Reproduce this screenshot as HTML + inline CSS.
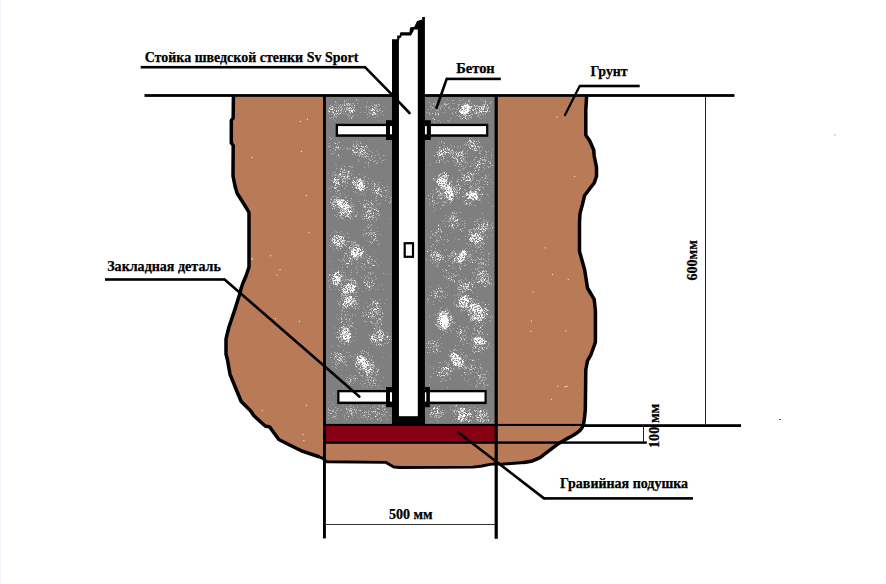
<!DOCTYPE html>
<html lang="ru">
<head>
<meta charset="utf-8">
<title>Схема бетонирования стойки шведской стенки Sv Sport</title>
<style>
html,body{margin:0;padding:0;background:#fff;}
body{width:886px;height:584px;overflow:hidden;font-family:"Liberation Serif",serif;}
svg{display:block;}
text{white-space:pre;}
</style>
</head>
<body>
<svg width="886" height="584" viewBox="0 0 886 584">
<defs><filter id="soft" x="320" y="90" width="180" height="340" filterUnits="userSpaceOnUse"><feGaussianBlur stdDeviation="0.4"/></filter></defs>
<rect width="886" height="584" fill="#fff"/>
<rect x="0" y="0" width="1" height="584" fill="#EEF3FC"/>
<polygon points="233.4,96.6 233.2,118.0 231.3,120.5 231.3,143.0 233.2,145.5 233.0,176.0 235.0,186.0 237.1,193.3 242.0,201.0 247.0,209.0 249.0,212.5 249.0,267.0 246.0,276.0 243.0,283.0 241.2,288.0 239.5,294.8 234.5,310.6 228.8,327.5 226.0,338.8 226.0,354.0 227.5,360.0 230.0,374.3 235.6,388.0 241.2,401.5 250.3,410.5 253.9,415.8 265.2,426.0 269.7,427.0 278.8,439.5 290.0,445.2 301.4,450.8 318.3,456.5 322.6,458.4 327.0,461.8 386.0,462.4 393.8,467.0 400.0,467.5 473.0,467.1 482.0,466.0 490.0,464.4 496.0,463.7 501.3,464.2 523.9,462.5 531.4,461.3 540.0,457.6 548.5,451.2 557.0,444.6 565.6,439.4 572.0,436.0 576.4,433.3 580.0,430.4 582.2,427.5 583.6,423.7 584.6,417.0 585.3,410.0 585.8,369.8 587.5,360.8 590.8,355.0 593.0,349.0 595.4,342.2 595.4,310.6 594.2,299.3 587.5,288.0 584.6,269.5 579.5,251.4 579.5,222.0 580.0,213.6 582.4,204.6 584.6,195.5 589.7,188.8 594.2,183.0 596.5,176.3 596.5,167.3 594.2,156.0 593.7,150.0 589.7,140.8 585.8,135.2 585.8,110.0 586.6,96.6" fill="#B97A57"/>
<polyline points="233.4,96.6 233.2,118.0 231.3,120.5 231.3,143.0 233.2,145.5 233.0,176.0 235.0,186.0 237.1,193.3 242.0,201.0 247.0,209.0 249.0,212.5 249.0,267.0 246.0,276.0 243.0,283.0 241.2,288.0 239.5,294.8 234.5,310.6 228.8,327.5 226.0,338.8 226.0,354.0 227.5,360.0 230.0,374.3 235.6,388.0 241.2,401.5 250.3,410.5 253.9,415.8 265.2,426.0 269.7,427.0 278.8,439.5 290.0,445.2 301.4,450.8 318.3,456.5" fill="none" stroke="#000" stroke-width="3.5" stroke-linejoin="round" stroke-linecap="round"/>
<polyline points="318.3,456.5 322.6,458.4 327.0,461.8 386.0,462.4 393.8,467.0 400.0,467.5 473.0,467.1 482.0,466.0 490.0,464.4 496.0,463.7 501.3,464.2 523.9,462.5" fill="none" stroke="#000" stroke-width="2.9" stroke-linejoin="round" stroke-linecap="round"/>
<polyline points="523.9,462.5 531.4,461.3 540.0,457.6 548.5,451.2 557.0,444.6 565.6,439.4 572.0,436.0 576.4,433.3 580.0,430.4 582.2,427.5 583.6,423.7 584.6,417.0 585.3,410.0 585.8,369.8 587.5,360.8 590.8,355.0 593.0,349.0 595.4,342.2 595.4,310.6 594.2,299.3 587.5,288.0 584.6,269.5 579.5,251.4 579.5,222.0 580.0,213.6 582.4,204.6 584.6,195.5 589.7,188.8 594.2,183.0 596.5,176.3 596.5,167.3 594.2,156.0 593.7,150.0 589.7,140.8 585.8,135.2 585.8,110.0 586.6,96.6" fill="none" stroke="#000" stroke-width="3.5" stroke-linejoin="round" stroke-linecap="round"/>
<rect x="325" y="96" width="171" height="329" fill="#7F7F7F"/>
<g filter="url(#soft)"><path d="M348 99h1v1h-1zM440 99h1v1h-1zM447 99h1v1h-1zM480 99h1v1h-1zM482 99h1v1h-1zM485 99h1v1h-1zM459 100h1v1h-1zM461 100h1v1h-1zM470 100h1v1h-1zM481 100h1v1h-1zM484 100h1v1h-1zM457 101h1v1h-1zM465 101h1v1h-1zM486 101h1v1h-1zM491 101h1v1h-1zM459 102h1v1h-1zM465 102h1v1h-1zM469 102h1v1h-1zM477 102h1v1h-1zM336 103h1v1h-1zM344 103h1v1h-1zM352 103h1v1h-1zM371 103h1v1h-1zM378 103h1v1h-1zM463 103h1v1h-1zM467 103h1v1h-1zM338 104h1v1h-1zM433 104h1v1h-1zM443 104h1v1h-1zM468 104h2v1h-2zM473 104h1v1h-1zM482 104h1v1h-1zM336 105h1v1h-1zM340 105h3v1h-3zM366 105h1v1h-1zM431 105h1v1h-1zM438 105h1v1h-1zM477 105h1v1h-1zM491 105h1v1h-1zM338 106h1v1h-1zM343 106h1v1h-1zM368 106h1v1h-1zM383 106h1v1h-1zM457 106h1v1h-1zM472 106h2v1h-2zM477 106h1v1h-1zM348 107h1v1h-1zM353 107h1v1h-1zM360 107h1v1h-1zM364 107h1v1h-1zM431 107h1v1h-1zM438 107h1v1h-1zM443 107h1v1h-1zM448 107h2v1h-2zM458 107h1v1h-1zM464 107h1v1h-1zM479 107h1v1h-1zM487 107h1v1h-1zM489 107h1v1h-1zM338 108h2v1h-2zM353 108h1v1h-1zM376 108h2v1h-2zM380 108h1v1h-1zM385 108h1v1h-1zM440 108h1v1h-1zM454 108h1v1h-1zM476 108h1v1h-1zM485 108h1v1h-1zM488 108h1v1h-1zM339 109h1v1h-1zM355 109h1v1h-1zM366 109h1v1h-1zM368 109h1v1h-1zM436 109h1v1h-1zM452 109h1v1h-1zM456 109h2v1h-2zM477 109h1v1h-1zM479 109h1v1h-1zM481 109h1v1h-1zM377 110h1v1h-1zM380 110h1v1h-1zM436 110h1v1h-1zM483 110h1v1h-1zM331 111h1v1h-1zM341 111h1v1h-1zM354 111h2v1h-2zM368 111h1v1h-1zM456 111h1v1h-1zM476 111h1v1h-1zM329 112h1v1h-1zM338 112h1v1h-1zM360 112h1v1h-1zM364 112h2v1h-2zM368 112h2v1h-2zM372 112h1v1h-1zM380 112h1v1h-1zM429 112h1v1h-1zM441 112h1v1h-1zM452 112h1v1h-1zM477 112h1v1h-1zM328 113h1v1h-1zM332 113h2v1h-2zM336 113h1v1h-1zM343 113h2v1h-2zM346 113h1v1h-1zM381 113h1v1h-1zM451 113h1v1h-1zM456 113h1v1h-1zM474 113h1v1h-1zM376 114h1v1h-1zM380 114h1v1h-1zM430 114h1v1h-1zM461 114h1v1h-1zM479 114h2v1h-2zM357 115h1v1h-1zM369 115h1v1h-1zM377 115h1v1h-1zM456 115h1v1h-1zM463 115h1v1h-1zM470 115h1v1h-1zM478 115h1v1h-1zM480 115h1v1h-1zM333 116h2v1h-2zM336 116h1v1h-1zM338 116h1v1h-1zM347 116h2v1h-2zM350 116h1v1h-1zM369 116h1v1h-1zM458 116h1v1h-1zM461 116h1v1h-1zM469 116h1v1h-1zM478 116h1v1h-1zM483 116h1v1h-1zM329 117h1v1h-1zM352 117h1v1h-1zM367 117h1v1h-1zM373 117h1v1h-1zM464 117h1v1h-1zM467 117h1v1h-1zM469 117h2v1h-2zM485 117h1v1h-1zM333 118h1v1h-1zM466 118h1v1h-1zM471 118h1v1h-1zM480 118h1v1h-1zM333 119h1v1h-1zM461 119h1v1h-1zM468 119h1v1h-1zM335 120h1v1h-1zM378 120h1v1h-1zM447 120h1v1h-1zM330 137h1v1h-1zM333 137h1v1h-1zM336 138h1v1h-1zM478 138h1v1h-1zM373 139h1v1h-1zM338 140h1v1h-1zM343 140h1v1h-1zM357 140h1v1h-1zM478 140h1v1h-1zM360 141h1v1h-1zM469 141h1v1h-1zM358 142h1v1h-1zM361 142h1v1h-1zM439 142h1v1h-1zM441 142h1v1h-1zM443 142h1v1h-1zM465 142h1v1h-1zM353 143h1v1h-1zM356 143h1v1h-1zM385 143h1v1h-1zM465 143h1v1h-1zM337 144h1v1h-1zM450 144h1v1h-1zM476 144h1v1h-1zM353 145h1v1h-1zM386 145h1v1h-1zM437 145h1v1h-1zM443 145h1v1h-1zM451 145h1v1h-1zM463 145h1v1h-1zM465 145h2v1h-2zM475 145h1v1h-1zM354 146h2v1h-2zM367 146h1v1h-1zM451 146h1v1h-1zM457 146h2v1h-2zM460 146h1v1h-1zM474 146h1v1h-1zM482 146h1v1h-1zM329 147h1v1h-1zM344 147h1v1h-1zM355 147h1v1h-1zM436 147h1v1h-1zM440 147h1v1h-1zM460 147h1v1h-1zM343 148h1v1h-1zM348 148h1v1h-1zM452 148h1v1h-1zM457 148h1v1h-1zM464 148h1v1h-1zM342 149h1v1h-1zM347 149h2v1h-2zM352 149h1v1h-1zM358 149h1v1h-1zM360 149h1v1h-1zM366 149h1v1h-1zM447 149h1v1h-1zM451 149h1v1h-1zM474 149h1v1h-1zM333 151h1v1h-1zM365 151h1v1h-1zM376 151h1v1h-1zM437 151h1v1h-1zM467 151h1v1h-1zM480 151h1v1h-1zM486 151h1v1h-1zM488 151h1v1h-1zM334 152h1v1h-1zM358 152h1v1h-1zM378 152h1v1h-1zM441 152h1v1h-1zM450 152h1v1h-1zM458 152h1v1h-1zM479 152h1v1h-1zM491 152h1v1h-1zM334 153h1v1h-1zM355 153h1v1h-1zM450 153h1v1h-1zM452 153h1v1h-1zM457 153h1v1h-1zM467 153h1v1h-1zM361 154h1v1h-1zM365 154h1v1h-1zM367 154h1v1h-1zM443 154h1v1h-1zM448 154h1v1h-1zM486 154h1v1h-1zM357 155h1v1h-1zM364 155h1v1h-1zM379 155h1v1h-1zM384 155h1v1h-1zM437 155h2v1h-2zM450 155h1v1h-1zM472 155h1v1h-1zM336 156h1v1h-1zM364 156h1v1h-1zM426 156h1v1h-1zM434 156h1v1h-1zM449 156h1v1h-1zM467 156h1v1h-1zM480 156h1v1h-1zM379 157h1v1h-1zM438 157h1v1h-1zM443 157h1v1h-1zM447 157h1v1h-1zM451 157h1v1h-1zM462 157h1v1h-1zM464 157h1v1h-1zM491 157h1v1h-1zM366 158h1v1h-1zM440 158h1v1h-1zM444 158h1v1h-1zM461 158h1v1h-1zM358 159h1v1h-1zM385 159h1v1h-1zM443 159h1v1h-1zM461 159h1v1h-1zM464 159h1v1h-1zM483 159h1v1h-1zM485 159h1v1h-1zM359 160h1v1h-1zM377 160h1v1h-1zM383 160h1v1h-1zM442 160h1v1h-1zM447 160h1v1h-1zM463 160h2v1h-2zM473 160h1v1h-1zM480 160h1v1h-1zM483 160h1v1h-1zM486 160h1v1h-1zM436 161h1v1h-1zM439 161h1v1h-1zM458 161h1v1h-1zM461 161h1v1h-1zM465 161h1v1h-1zM470 161h1v1h-1zM474 161h1v1h-1zM485 161h1v1h-1zM490 161h1v1h-1zM444 162h2v1h-2zM454 162h2v1h-2zM459 162h1v1h-1zM464 162h1v1h-1zM467 162h1v1h-1zM475 162h1v1h-1zM485 162h1v1h-1zM459 163h1v1h-1zM471 163h2v1h-2zM484 163h1v1h-1zM335 164h1v1h-1zM342 164h1v1h-1zM454 164h1v1h-1zM460 164h1v1h-1zM473 164h1v1h-1zM336 165h1v1h-1zM352 165h1v1h-1zM471 165h1v1h-1zM473 165h1v1h-1zM475 165h1v1h-1zM491 165h1v1h-1zM341 166h1v1h-1zM466 166h1v1h-1zM469 166h1v1h-1zM487 166h2v1h-2zM351 167h1v1h-1zM368 167h1v1h-1zM477 167h1v1h-1zM489 167h1v1h-1zM464 168h1v1h-1zM475 168h1v1h-1zM484 168h1v1h-1zM346 169h1v1h-1zM461 169h1v1h-1zM463 169h1v1h-1zM478 169h1v1h-1zM484 169h1v1h-1zM350 170h1v1h-1zM352 170h1v1h-1zM458 170h1v1h-1zM346 171h1v1h-1zM482 171h1v1h-1zM332 172h1v1h-1zM335 172h1v1h-1zM328 173h1v1h-1zM339 173h1v1h-1zM440 173h1v1h-1zM474 173h1v1h-1zM334 174h3v1h-3zM344 174h1v1h-1zM353 174h1v1h-1zM439 174h1v1h-1zM474 174h1v1h-1zM332 175h1v1h-1zM336 175h1v1h-1zM339 175h1v1h-1zM342 175h1v1h-1zM345 175h1v1h-1zM362 175h1v1h-1zM438 175h1v1h-1zM478 175h1v1h-1zM488 175h1v1h-1zM332 176h1v1h-1zM338 176h2v1h-2zM345 176h1v1h-1zM356 176h1v1h-1zM364 176h1v1h-1zM435 176h1v1h-1zM439 176h1v1h-1zM448 176h1v1h-1zM469 176h1v1h-1zM340 177h1v1h-1zM363 177h1v1h-1zM446 177h1v1h-1zM452 177h1v1h-1zM458 177h1v1h-1zM461 177h1v1h-1zM464 177h1v1h-1zM468 177h1v1h-1zM332 178h1v1h-1zM338 178h2v1h-2zM347 178h1v1h-1zM354 178h1v1h-1zM357 178h1v1h-1zM452 178h1v1h-1zM464 178h1v1h-1zM487 178h1v1h-1zM339 179h1v1h-1zM358 179h1v1h-1zM435 179h1v1h-1zM442 179h1v1h-1zM457 179h1v1h-1zM464 179h1v1h-1zM472 179h1v1h-1zM490 179h1v1h-1zM331 180h1v1h-1zM342 180h1v1h-1zM363 180h2v1h-2zM371 180h1v1h-1zM432 180h1v1h-1zM434 180h1v1h-1zM450 180h1v1h-1zM477 180h1v1h-1zM333 181h1v1h-1zM344 181h1v1h-1zM363 181h3v1h-3zM372 181h2v1h-2zM450 181h1v1h-1zM452 181h1v1h-1zM456 181h1v1h-1zM470 181h1v1h-1zM490 181h1v1h-1zM344 182h2v1h-2zM380 182h1v1h-1zM450 182h2v1h-2zM463 182h2v1h-2zM470 182h1v1h-1zM335 183h1v1h-1zM345 183h1v1h-1zM352 183h1v1h-1zM367 183h1v1h-1zM458 183h1v1h-1zM473 183h1v1h-1zM475 183h1v1h-1zM350 184h1v1h-1zM368 184h1v1h-1zM372 184h1v1h-1zM346 185h1v1h-1zM363 185h1v1h-1zM377 185h1v1h-1zM457 185h1v1h-1zM462 185h1v1h-1zM472 185h1v1h-1zM330 186h1v1h-1zM339 186h1v1h-1zM342 186h1v1h-1zM371 186h1v1h-1zM376 186h1v1h-1zM453 186h1v1h-1zM455 186h1v1h-1zM470 186h1v1h-1zM331 187h1v1h-1zM361 187h1v1h-1zM366 187h1v1h-1zM373 187h1v1h-1zM378 187h1v1h-1zM383 187h1v1h-1zM453 187h1v1h-1zM457 187h1v1h-1zM472 187h1v1h-1zM476 187h1v1h-1zM490 187h1v1h-1zM328 188h2v1h-2zM360 188h1v1h-1zM372 188h1v1h-1zM452 188h1v1h-1zM457 188h1v1h-1zM471 188h1v1h-1zM336 189h1v1h-1zM353 189h1v1h-1zM381 189h1v1h-1zM388 189h1v1h-1zM435 189h1v1h-1zM437 189h1v1h-1zM439 189h1v1h-1zM441 189h1v1h-1zM469 189h1v1h-1zM471 189h1v1h-1zM477 189h1v1h-1zM479 189h2v1h-2zM483 189h1v1h-1zM359 190h1v1h-1zM372 190h1v1h-1zM432 190h2v1h-2zM436 190h1v1h-1zM452 190h2v1h-2zM459 190h1v1h-1zM470 190h2v1h-2zM474 190h1v1h-1zM492 190h1v1h-1zM330 191h1v1h-1zM355 191h1v1h-1zM388 191h1v1h-1zM443 191h1v1h-1zM457 191h1v1h-1zM462 191h1v1h-1zM355 192h1v1h-1zM357 192h1v1h-1zM364 192h1v1h-1zM383 192h1v1h-1zM387 192h1v1h-1zM435 192h3v1h-3zM439 192h1v1h-1zM443 192h1v1h-1zM474 192h1v1h-1zM477 192h1v1h-1zM481 192h1v1h-1zM339 193h1v1h-1zM355 193h1v1h-1zM361 193h1v1h-1zM374 193h1v1h-1zM441 193h1v1h-1zM444 193h1v1h-1zM453 193h1v1h-1zM344 194h1v1h-1zM360 194h1v1h-1zM387 194h1v1h-1zM442 194h1v1h-1zM447 194h1v1h-1zM456 194h1v1h-1zM339 195h2v1h-2zM348 195h1v1h-1zM358 195h1v1h-1zM371 195h1v1h-1zM383 195h1v1h-1zM439 195h2v1h-2zM443 195h1v1h-1zM445 195h1v1h-1zM465 195h1v1h-1zM468 195h1v1h-1zM488 195h1v1h-1zM336 196h1v1h-1zM346 196h1v1h-1zM384 196h1v1h-1zM439 196h1v1h-1zM456 196h2v1h-2zM336 197h1v1h-1zM338 197h2v1h-2zM385 197h1v1h-1zM442 197h1v1h-1zM459 197h1v1h-1zM464 197h1v1h-1zM473 197h1v1h-1zM376 198h1v1h-1zM437 198h1v1h-1zM447 198h1v1h-1zM457 198h2v1h-2zM342 199h1v1h-1zM364 199h1v1h-1zM441 199h1v1h-1zM333 200h1v1h-1zM375 200h1v1h-1zM391 200h1v1h-1zM446 200h2v1h-2zM466 200h2v1h-2zM469 200h1v1h-1zM474 200h1v1h-1zM477 200h2v1h-2zM481 200h1v1h-1zM333 201h1v1h-1zM346 201h2v1h-2zM358 201h2v1h-2zM442 201h1v1h-1zM463 201h1v1h-1zM471 201h2v1h-2zM344 202h1v1h-1zM363 202h1v1h-1zM429 202h1v1h-1zM444 202h1v1h-1zM480 202h1v1h-1zM488 202h1v1h-1zM350 203h1v1h-1zM367 203h1v1h-1zM373 203h1v1h-1zM437 203h1v1h-1zM464 203h1v1h-1zM336 204h1v1h-1zM351 204h2v1h-2zM364 204h1v1h-1zM369 204h1v1h-1zM442 204h1v1h-1zM444 204h1v1h-1zM449 204h1v1h-1zM331 205h1v1h-1zM361 205h1v1h-1zM364 205h1v1h-1zM368 205h1v1h-1zM371 205h1v1h-1zM373 205h1v1h-1zM376 205h1v1h-1zM433 205h1v1h-1zM474 205h1v1h-1zM334 206h3v1h-3zM338 206h1v1h-1zM373 206h1v1h-1zM343 207h1v1h-1zM375 207h1v1h-1zM433 207h1v1h-1zM341 208h1v1h-1zM350 208h1v1h-1zM353 208h1v1h-1zM371 208h1v1h-1zM373 208h1v1h-1zM336 209h1v1h-1zM342 209h1v1h-1zM346 209h1v1h-1zM351 209h1v1h-1zM377 209h1v1h-1zM345 210h1v1h-1zM354 210h1v1h-1zM371 210h1v1h-1zM337 211h1v1h-1zM341 212h1v1h-1zM345 212h1v1h-1zM347 212h1v1h-1zM351 212h1v1h-1zM353 212h2v1h-2zM366 212h1v1h-1zM371 212h1v1h-1zM373 212h1v1h-1zM456 212h1v1h-1zM461 212h1v1h-1zM375 213h1v1h-1zM453 213h1v1h-1zM455 213h1v1h-1zM350 214h1v1h-1zM353 214h1v1h-1zM361 214h1v1h-1zM364 214h1v1h-1zM367 214h1v1h-1zM450 214h1v1h-1zM334 215h2v1h-2zM342 215h1v1h-1zM356 215h1v1h-1zM379 215h1v1h-1zM356 216h1v1h-1zM361 216h1v1h-1zM375 216h1v1h-1zM448 216h1v1h-1zM455 216h3v1h-3zM340 217h1v1h-1zM369 217h1v1h-1zM375 217h1v1h-1zM451 217h1v1h-1zM483 217h1v1h-1zM350 218h1v1h-1zM352 218h1v1h-1zM379 218h1v1h-1zM390 218h1v1h-1zM470 218h1v1h-1zM338 219h1v1h-1zM363 219h1v1h-1zM452 219h1v1h-1zM459 219h1v1h-1zM479 219h1v1h-1zM344 220h1v1h-1zM375 220h1v1h-1zM429 220h1v1h-1zM453 220h1v1h-1zM462 220h1v1h-1zM464 220h1v1h-1zM476 220h1v1h-1zM486 220h1v1h-1zM442 221h1v1h-1zM453 221h1v1h-1zM461 221h1v1h-1zM464 221h1v1h-1zM486 221h1v1h-1zM488 221h1v1h-1zM374 222h1v1h-1zM444 223h1v1h-1zM458 223h1v1h-1zM464 223h1v1h-1zM438 224h1v1h-1zM459 224h1v1h-1zM462 224h1v1h-1zM490 224h1v1h-1zM370 225h1v1h-1zM372 225h1v1h-1zM475 225h1v1h-1zM488 225h1v1h-1zM492 226h1v1h-1zM366 227h1v1h-1zM377 227h1v1h-1zM440 227h1v1h-1zM473 227h1v1h-1zM484 227h1v1h-1zM368 228h1v1h-1zM474 228h1v1h-1zM479 228h1v1h-1zM492 228h1v1h-1zM363 229h1v1h-1zM441 229h1v1h-1zM454 229h1v1h-1zM468 229h3v1h-3zM482 229h1v1h-1zM487 229h1v1h-1zM435 230h1v1h-1zM461 230h1v1h-1zM463 230h1v1h-1zM469 230h1v1h-1zM478 230h1v1h-1zM482 230h1v1h-1zM484 230h1v1h-1zM488 230h1v1h-1zM491 230h1v1h-1zM335 231h2v1h-2zM341 231h1v1h-1zM469 231h2v1h-2zM332 232h1v1h-1zM336 232h2v1h-2zM339 232h1v1h-1zM367 232h1v1h-1zM451 232h1v1h-1zM479 232h1v1h-1zM340 233h1v1h-1zM365 233h1v1h-1zM371 233h1v1h-1zM433 233h1v1h-1zM470 233h1v1h-1zM477 233h3v1h-3zM482 233h1v1h-1zM343 234h1v1h-1zM369 234h1v1h-1zM377 234h1v1h-1zM380 234h1v1h-1zM445 234h1v1h-1zM485 234h1v1h-1zM344 235h1v1h-1zM365 235h1v1h-1zM447 235h1v1h-1zM344 236h1v1h-1zM465 236h1v1h-1zM477 236h1v1h-1zM481 236h1v1h-1zM487 236h1v1h-1zM338 237h1v1h-1zM340 237h1v1h-1zM376 237h1v1h-1zM437 237h1v1h-1zM471 237h1v1h-1zM455 238h1v1h-1zM330 239h1v1h-1zM436 239h1v1h-1zM459 239h1v1h-1zM465 239h1v1h-1zM484 239h1v1h-1zM366 240h1v1h-1zM352 241h1v1h-1zM354 241h1v1h-1zM370 241h1v1h-1zM469 241h1v1h-1zM482 241h1v1h-1zM332 242h1v1h-1zM343 242h1v1h-1zM347 242h1v1h-1zM351 242h1v1h-1zM438 242h1v1h-1zM480 242h1v1h-1zM331 243h1v1h-1zM335 243h1v1h-1zM352 243h2v1h-2zM378 243h1v1h-1zM466 243h2v1h-2zM475 243h1v1h-1zM331 244h1v1h-1zM342 244h1v1h-1zM352 244h1v1h-1zM357 244h3v1h-3zM378 244h2v1h-2zM437 244h1v1h-1zM329 245h1v1h-1zM340 245h1v1h-1zM350 245h1v1h-1zM354 245h1v1h-1zM359 245h1v1h-1zM369 245h1v1h-1zM436 245h1v1h-1zM468 245h1v1h-1zM473 245h1v1h-1zM478 245h1v1h-1zM349 246h1v1h-1zM353 246h1v1h-1zM356 246h1v1h-1zM363 246h1v1h-1zM433 246h1v1h-1zM458 246h1v1h-1zM471 246h1v1h-1zM337 247h1v1h-1zM359 247h1v1h-1zM351 248h1v1h-1zM363 248h1v1h-1zM454 248h1v1h-1zM462 248h1v1h-1zM465 248h2v1h-2zM469 248h1v1h-1zM477 248h1v1h-1zM483 248h1v1h-1zM350 249h2v1h-2zM355 249h2v1h-2zM483 249h1v1h-1zM349 250h1v1h-1zM366 250h1v1h-1zM430 250h1v1h-1zM438 250h1v1h-1zM457 250h1v1h-1zM486 250h1v1h-1zM364 251h1v1h-1zM434 251h1v1h-1zM436 251h1v1h-1zM452 251h1v1h-1zM459 251h1v1h-1zM469 251h1v1h-1zM344 252h1v1h-1zM349 252h1v1h-1zM374 252h1v1h-1zM451 252h1v1h-1zM453 252h1v1h-1zM455 252h1v1h-1zM460 252h1v1h-1zM465 252h1v1h-1zM476 252h1v1h-1zM482 252h1v1h-1zM347 253h1v1h-1zM433 253h1v1h-1zM454 253h1v1h-1zM472 253h1v1h-1zM367 254h1v1h-1zM441 254h1v1h-1zM450 254h2v1h-2zM453 254h1v1h-1zM480 254h1v1h-1zM484 254h1v1h-1zM488 254h1v1h-1zM350 255h1v1h-1zM363 255h1v1h-1zM454 255h2v1h-2zM483 255h1v1h-1zM344 256h1v1h-1zM347 256h1v1h-1zM365 256h1v1h-1zM373 256h1v1h-1zM431 256h1v1h-1zM434 256h2v1h-2zM445 256h1v1h-1zM449 256h1v1h-1zM468 256h3v1h-3zM473 256h1v1h-1zM488 256h1v1h-1zM344 257h1v1h-1zM355 257h1v1h-1zM360 257h1v1h-1zM363 257h1v1h-1zM370 257h1v1h-1zM439 257h1v1h-1zM456 257h1v1h-1zM471 257h1v1h-1zM481 257h1v1h-1zM342 258h1v1h-1zM346 258h1v1h-1zM351 258h1v1h-1zM355 258h2v1h-2zM363 258h2v1h-2zM377 258h1v1h-1zM432 258h1v1h-1zM440 258h1v1h-1zM352 259h1v1h-1zM360 259h1v1h-1zM459 259h1v1h-1zM348 260h1v1h-1zM355 260h1v1h-1zM472 260h1v1h-1zM329 261h1v1h-1zM374 261h1v1h-1zM436 261h2v1h-2zM450 261h1v1h-1zM462 261h1v1h-1zM469 261h1v1h-1zM478 261h1v1h-1zM488 261h1v1h-1zM381 262h1v1h-1zM438 262h2v1h-2zM470 262h1v1h-1zM353 263h1v1h-1zM361 263h1v1h-1zM364 263h1v1h-1zM376 263h1v1h-1zM438 263h1v1h-1zM464 263h1v1h-1zM342 264h1v1h-1zM365 264h1v1h-1zM372 264h1v1h-1zM478 264h1v1h-1zM363 265h1v1h-1zM437 265h1v1h-1zM485 265h2v1h-2zM449 266h1v1h-1zM453 266h1v1h-1zM479 266h2v1h-2zM361 267h1v1h-1zM369 267h1v1h-1zM479 267h1v1h-1zM362 268h1v1h-1zM455 268h1v1h-1zM475 268h1v1h-1zM477 268h2v1h-2zM332 269h1v1h-1zM364 269h1v1h-1zM471 269h1v1h-1zM338 270h1v1h-1zM364 270h1v1h-1zM478 270h1v1h-1zM482 270h1v1h-1zM340 271h1v1h-1zM456 271h1v1h-1zM485 271h1v1h-1zM341 272h1v1h-1zM344 272h1v1h-1zM356 272h1v1h-1zM373 272h1v1h-1zM446 272h1v1h-1zM448 272h1v1h-1zM368 273h1v1h-1zM385 273h1v1h-1zM448 273h1v1h-1zM473 273h1v1h-1zM477 273h1v1h-1zM342 274h1v1h-1zM350 274h1v1h-1zM356 274h1v1h-1zM389 274h1v1h-1zM335 275h2v1h-2zM343 275h1v1h-1zM350 275h1v1h-1zM452 275h1v1h-1zM454 275h1v1h-1zM473 275h2v1h-2zM485 275h1v1h-1zM343 276h1v1h-1zM450 276h1v1h-1zM459 276h1v1h-1zM481 276h3v1h-3zM486 276h1v1h-1zM328 277h1v1h-1zM449 277h1v1h-1zM479 277h1v1h-1zM483 277h1v1h-1zM488 277h1v1h-1zM342 278h1v1h-1zM349 278h1v1h-1zM376 278h1v1h-1zM472 278h1v1h-1zM476 278h1v1h-1zM343 279h1v1h-1zM346 279h1v1h-1zM375 279h1v1h-1zM447 279h1v1h-1zM453 279h1v1h-1zM465 279h1v1h-1zM471 279h1v1h-1zM475 279h2v1h-2zM483 279h1v1h-1zM328 280h2v1h-2zM341 280h1v1h-1zM353 280h1v1h-1zM364 280h1v1h-1zM366 280h1v1h-1zM458 280h1v1h-1zM460 280h1v1h-1zM463 280h1v1h-1zM466 280h1v1h-1zM482 280h2v1h-2zM486 280h1v1h-1zM328 281h1v1h-1zM341 281h1v1h-1zM344 281h1v1h-1zM368 281h1v1h-1zM471 281h1v1h-1zM475 281h1v1h-1zM356 282h1v1h-1zM454 282h1v1h-1zM462 282h1v1h-1zM468 282h1v1h-1zM483 282h1v1h-1zM339 283h1v1h-1zM350 283h1v1h-1zM457 283h1v1h-1zM462 283h1v1h-1zM467 283h1v1h-1zM488 283h1v1h-1zM491 283h1v1h-1zM352 284h1v1h-1zM355 284h1v1h-1zM460 284h1v1h-1zM462 284h1v1h-1zM490 284h1v1h-1zM340 285h1v1h-1zM351 285h1v1h-1zM354 285h1v1h-1zM356 285h1v1h-1zM378 285h1v1h-1zM448 285h1v1h-1zM457 285h1v1h-1zM473 285h1v1h-1zM486 285h1v1h-1zM356 286h1v1h-1zM431 286h1v1h-1zM462 286h1v1h-1zM480 286h1v1h-1zM340 287h1v1h-1zM343 287h1v1h-1zM368 287h1v1h-1zM429 287h1v1h-1zM440 287h1v1h-1zM446 287h1v1h-1zM460 287h1v1h-1zM467 287h1v1h-1zM475 287h1v1h-1zM345 288h1v1h-1zM441 288h1v1h-1zM461 288h1v1h-1zM335 289h1v1h-1zM341 289h1v1h-1zM346 289h1v1h-1zM375 289h1v1h-1zM383 289h1v1h-1zM469 289h1v1h-1zM454 290h1v1h-1zM462 290h1v1h-1zM466 290h1v1h-1zM351 291h1v1h-1zM362 291h1v1h-1zM433 291h1v1h-1zM435 291h1v1h-1zM444 291h1v1h-1zM464 291h2v1h-2zM357 292h1v1h-1zM437 292h1v1h-1zM440 292h3v1h-3zM460 292h1v1h-1zM350 293h1v1h-1zM353 293h1v1h-1zM447 293h1v1h-1zM457 293h1v1h-1zM460 293h1v1h-1zM341 294h1v1h-1zM349 294h2v1h-2zM355 294h1v1h-1zM436 294h1v1h-1zM460 294h1v1h-1zM466 294h1v1h-1zM342 295h1v1h-1zM437 295h1v1h-1zM457 295h1v1h-1zM459 295h1v1h-1zM464 295h1v1h-1zM356 296h1v1h-1zM462 296h1v1h-1zM344 297h1v1h-1zM439 297h1v1h-1zM444 297h1v1h-1zM343 298h1v1h-1zM435 298h1v1h-1zM473 298h1v1h-1zM352 299h1v1h-1zM354 299h1v1h-1zM358 299h1v1h-1zM379 299h2v1h-2zM386 299h1v1h-1zM454 299h1v1h-1zM474 299h1v1h-1zM476 299h1v1h-1zM342 300h1v1h-1zM359 300h1v1h-1zM455 300h1v1h-1zM458 300h1v1h-1zM461 300h1v1h-1zM463 300h1v1h-1zM472 300h1v1h-1zM477 300h2v1h-2zM372 301h1v1h-1zM377 301h1v1h-1zM440 301h1v1h-1zM462 301h1v1h-1zM469 301h1v1h-1zM355 302h1v1h-1zM458 302h1v1h-1zM467 302h1v1h-1zM472 302h1v1h-1zM479 302h1v1h-1zM481 302h1v1h-1zM340 303h1v1h-1zM352 303h1v1h-1zM366 303h1v1h-1zM380 303h1v1h-1zM384 303h1v1h-1zM453 303h1v1h-1zM477 303h1v1h-1zM454 304h1v1h-1zM469 304h1v1h-1zM478 304h1v1h-1zM377 305h1v1h-1zM379 305h1v1h-1zM386 305h1v1h-1zM454 305h1v1h-1zM465 305h1v1h-1zM342 306h1v1h-1zM351 306h1v1h-1zM368 306h1v1h-1zM472 306h1v1h-1zM481 306h1v1h-1zM348 307h1v1h-1zM367 307h1v1h-1zM447 307h1v1h-1zM456 307h1v1h-1zM458 307h1v1h-1zM461 307h1v1h-1zM477 307h1v1h-1zM484 307h1v1h-1zM343 308h2v1h-2zM353 308h1v1h-1zM380 308h1v1h-1zM440 308h1v1h-1zM446 308h1v1h-1zM466 308h1v1h-1zM469 308h1v1h-1zM474 308h1v1h-1zM342 309h1v1h-1zM355 309h1v1h-1zM445 309h1v1h-1zM447 309h1v1h-1zM467 309h1v1h-1zM483 309h1v1h-1zM487 309h1v1h-1zM341 310h1v1h-1zM369 310h1v1h-1zM374 310h1v1h-1zM379 310h1v1h-1zM439 310h1v1h-1zM445 310h2v1h-2zM448 310h1v1h-1zM460 310h1v1h-1zM463 310h1v1h-1zM471 310h1v1h-1zM486 310h1v1h-1zM489 310h1v1h-1zM341 311h1v1h-1zM347 311h1v1h-1zM460 311h1v1h-1zM483 311h1v1h-1zM486 311h1v1h-1zM379 312h1v1h-1zM438 312h2v1h-2zM445 312h1v1h-1zM461 312h1v1h-1zM468 312h2v1h-2zM473 312h1v1h-1zM475 312h1v1h-1zM341 313h1v1h-1zM383 313h1v1h-1zM437 313h1v1h-1zM442 313h1v1h-1zM450 313h1v1h-1zM475 313h1v1h-1zM479 313h1v1h-1zM337 314h1v1h-1zM347 314h2v1h-2zM434 314h2v1h-2zM437 314h2v1h-2zM442 314h1v1h-1zM480 314h1v1h-1zM350 315h1v1h-1zM362 315h1v1h-1zM433 315h1v1h-1zM469 315h1v1h-1zM471 315h1v1h-1zM361 316h1v1h-1zM373 316h1v1h-1zM381 316h1v1h-1zM451 316h1v1h-1zM477 316h2v1h-2zM488 316h1v1h-1zM336 317h1v1h-1zM340 317h1v1h-1zM382 317h1v1h-1zM436 317h1v1h-1zM470 317h1v1h-1zM372 318h1v1h-1zM374 318h1v1h-1zM451 318h1v1h-1zM453 318h1v1h-1zM470 318h1v1h-1zM342 319h1v1h-1zM378 319h1v1h-1zM435 319h1v1h-1zM478 319h1v1h-1zM484 319h1v1h-1zM437 320h1v1h-1zM449 320h1v1h-1zM451 320h1v1h-1zM470 320h1v1h-1zM476 320h2v1h-2zM346 321h1v1h-1zM348 321h1v1h-1zM351 321h1v1h-1zM376 321h2v1h-2zM470 321h1v1h-1zM476 321h1v1h-1zM346 322h1v1h-1zM352 322h1v1h-1zM354 322h1v1h-1zM434 322h1v1h-1zM439 322h1v1h-1zM451 322h1v1h-1zM469 322h1v1h-1zM339 323h1v1h-1zM349 323h1v1h-1zM375 323h1v1h-1zM437 323h1v1h-1zM453 323h1v1h-1zM482 323h1v1h-1zM347 324h1v1h-1zM449 324h1v1h-1zM480 324h1v1h-1zM366 325h1v1h-1zM372 325h1v1h-1zM377 325h1v1h-1zM438 325h2v1h-2zM452 325h1v1h-1zM473 325h1v1h-1zM476 325h1v1h-1zM478 325h1v1h-1zM483 325h1v1h-1zM341 326h1v1h-1zM346 326h1v1h-1zM349 326h1v1h-1zM376 326h1v1h-1zM379 326h1v1h-1zM450 326h1v1h-1zM334 327h1v1h-1zM339 327h1v1h-1zM345 327h1v1h-1zM353 327h1v1h-1zM376 327h1v1h-1zM438 327h2v1h-2zM474 327h1v1h-1zM355 328h1v1h-1zM376 328h1v1h-1zM379 328h1v1h-1zM438 328h1v1h-1zM473 328h1v1h-1zM480 328h1v1h-1zM338 329h1v1h-1zM356 329h1v1h-1zM377 329h1v1h-1zM379 329h2v1h-2zM382 329h1v1h-1zM438 329h1v1h-1zM443 329h1v1h-1zM445 329h1v1h-1zM442 330h1v1h-1zM451 330h1v1h-1zM476 330h1v1h-1zM339 331h1v1h-1zM350 331h1v1h-1zM373 331h1v1h-1zM446 331h1v1h-1zM479 331h1v1h-1zM356 332h1v1h-1zM386 332h1v1h-1zM451 332h1v1h-1zM459 332h1v1h-1zM335 333h1v1h-1zM340 333h1v1h-1zM387 333h1v1h-1zM463 333h1v1h-1zM473 333h1v1h-1zM337 334h1v1h-1zM368 334h1v1h-1zM473 334h1v1h-1zM476 334h1v1h-1zM481 334h1v1h-1zM483 334h1v1h-1zM341 335h1v1h-1zM380 335h1v1h-1zM387 335h1v1h-1zM459 335h1v1h-1zM464 335h1v1h-1zM471 335h1v1h-1zM337 336h2v1h-2zM353 336h1v1h-1zM355 336h1v1h-1zM386 336h1v1h-1zM462 336h1v1h-1zM471 336h1v1h-1zM478 336h1v1h-1zM483 336h1v1h-1zM337 337h1v1h-1zM352 337h1v1h-1zM383 337h1v1h-1zM389 337h1v1h-1zM463 337h1v1h-1zM473 337h1v1h-1zM476 337h1v1h-1zM484 337h1v1h-1zM369 338h2v1h-2zM379 338h1v1h-1zM384 338h1v1h-1zM469 338h1v1h-1zM472 338h1v1h-1zM378 339h1v1h-1zM386 339h2v1h-2zM438 339h1v1h-1zM465 339h1v1h-1zM340 340h1v1h-1zM342 340h1v1h-1zM353 340h2v1h-2zM382 340h1v1h-1zM431 340h1v1h-1zM437 340h1v1h-1zM462 340h1v1h-1zM464 340h1v1h-1zM466 340h1v1h-1zM472 340h1v1h-1zM485 340h1v1h-1zM344 341h1v1h-1zM351 341h1v1h-1zM386 341h1v1h-1zM429 341h2v1h-2zM473 341h1v1h-1zM344 342h1v1h-1zM378 342h1v1h-1zM432 342h1v1h-1zM463 342h1v1h-1zM473 342h1v1h-1zM488 342h1v1h-1zM343 343h1v1h-1zM370 343h1v1h-1zM376 343h1v1h-1zM384 343h1v1h-1zM429 343h1v1h-1zM431 343h1v1h-1zM441 343h1v1h-1zM466 343h1v1h-1zM470 343h1v1h-1zM374 344h1v1h-1zM430 344h1v1h-1zM471 344h1v1h-1zM476 344h1v1h-1zM482 344h1v1h-1zM349 345h1v1h-1zM427 345h1v1h-1zM431 345h1v1h-1zM434 345h1v1h-1zM439 345h1v1h-1zM458 345h1v1h-1zM475 345h1v1h-1zM435 346h1v1h-1zM438 346h1v1h-1zM473 346h1v1h-1zM476 346h1v1h-1zM487 346h1v1h-1zM368 347h1v1h-1zM374 347h1v1h-1zM431 347h1v1h-1zM437 347h1v1h-1zM441 347h1v1h-1zM476 347h1v1h-1zM480 347h1v1h-1zM486 347h1v1h-1zM436 348h1v1h-1zM481 348h1v1h-1zM487 348h1v1h-1zM429 349h1v1h-1zM453 349h1v1h-1zM460 349h2v1h-2zM472 349h2v1h-2zM429 350h1v1h-1zM453 350h1v1h-1zM456 350h2v1h-2zM484 350h1v1h-1zM360 351h2v1h-2zM439 351h1v1h-1zM450 351h2v1h-2zM473 351h1v1h-1zM348 352h2v1h-2zM361 352h1v1h-1zM460 352h1v1h-1zM481 352h1v1h-1zM357 353h1v1h-1zM461 353h1v1h-1zM357 354h1v1h-1zM448 354h1v1h-1zM462 354h1v1h-1zM470 354h1v1h-1zM368 355h1v1h-1zM371 355h1v1h-1zM448 355h1v1h-1zM455 355h1v1h-1zM466 355h1v1h-1zM336 356h2v1h-2zM342 356h1v1h-1zM348 356h1v1h-1zM351 356h1v1h-1zM363 356h1v1h-1zM366 356h1v1h-1zM390 356h1v1h-1zM449 356h1v1h-1zM458 356h1v1h-1zM460 356h1v1h-1zM463 356h1v1h-1zM465 356h1v1h-1zM365 357h1v1h-1zM370 357h1v1h-1zM383 357h1v1h-1zM461 357h1v1h-1zM464 357h1v1h-1zM341 358h1v1h-1zM353 358h1v1h-1zM364 358h1v1h-1zM369 358h1v1h-1zM461 358h1v1h-1zM334 359h1v1h-1zM355 359h1v1h-1zM454 359h1v1h-1zM472 359h1v1h-1zM331 360h1v1h-1zM335 360h1v1h-1zM445 360h1v1h-1zM449 360h1v1h-1zM474 360h1v1h-1zM355 361h1v1h-1zM369 361h1v1h-1zM373 361h1v1h-1zM444 361h1v1h-1zM343 362h1v1h-1zM369 362h1v1h-1zM439 362h1v1h-1zM442 362h1v1h-1zM448 362h1v1h-1zM474 362h1v1h-1zM343 363h1v1h-1zM358 363h1v1h-1zM360 363h1v1h-1zM369 363h1v1h-1zM448 363h1v1h-1zM452 363h1v1h-1zM337 364h1v1h-1zM370 364h1v1h-1zM445 364h1v1h-1zM448 364h1v1h-1zM346 365h2v1h-2zM361 365h1v1h-1zM371 365h1v1h-1zM374 365h1v1h-1zM448 365h1v1h-1zM454 365h1v1h-1zM342 366h1v1h-1zM346 366h1v1h-1zM433 366h1v1h-1zM447 366h1v1h-1zM456 366h1v1h-1zM479 366h1v1h-1zM356 367h2v1h-2zM369 367h1v1h-1zM378 367h1v1h-1zM430 367h1v1h-1zM438 367h2v1h-2zM464 367h1v1h-1zM468 367h1v1h-1zM481 367h1v1h-1zM358 368h1v1h-1zM367 368h1v1h-1zM457 368h1v1h-1zM460 368h1v1h-1zM463 368h1v1h-1zM468 368h1v1h-1zM477 368h2v1h-2zM480 368h1v1h-1zM482 368h1v1h-1zM341 369h1v1h-1zM358 369h1v1h-1zM361 369h2v1h-2zM377 369h1v1h-1zM453 369h2v1h-2zM458 369h1v1h-1zM481 369h1v1h-1zM346 370h1v1h-1zM360 370h1v1h-1zM365 370h1v1h-1zM377 370h1v1h-1zM436 370h1v1h-1zM487 370h1v1h-1zM372 371h1v1h-1zM376 371h1v1h-1zM451 371h1v1h-1zM481 371h1v1h-1zM358 372h1v1h-1zM374 372h2v1h-2zM377 372h1v1h-1zM440 372h1v1h-1zM444 372h2v1h-2zM474 372h1v1h-1zM366 373h1v1h-1zM375 373h1v1h-1zM439 373h1v1h-1zM441 373h1v1h-1zM449 373h1v1h-1zM470 373h2v1h-2zM450 374h1v1h-1zM488 374h1v1h-1zM341 375h1v1h-1zM354 375h1v1h-1zM360 375h1v1h-1zM375 375h1v1h-1zM365 376h1v1h-1zM445 376h1v1h-1zM481 376h1v1h-1zM366 377h1v1h-1zM368 377h1v1h-1zM374 377h1v1h-1zM431 377h1v1h-1zM449 377h1v1h-1zM354 378h1v1h-1zM357 378h1v1h-1zM362 378h1v1h-1zM373 378h1v1h-1zM375 378h1v1h-1zM379 378h1v1h-1zM441 378h1v1h-1zM464 378h1v1h-1zM480 378h1v1h-1zM355 379h1v1h-1zM365 379h1v1h-1zM371 379h1v1h-1zM437 379h1v1h-1zM442 379h1v1h-1zM450 379h1v1h-1zM478 379h1v1h-1zM483 379h1v1h-1zM360 380h1v1h-1zM365 380h1v1h-1zM367 380h1v1h-1zM381 380h1v1h-1zM443 380h1v1h-1zM446 380h1v1h-1zM481 380h1v1h-1zM347 381h1v1h-1zM355 381h1v1h-1zM371 381h1v1h-1zM380 381h1v1h-1zM480 381h1v1h-1zM365 382h1v1h-1zM479 382h1v1h-1zM484 382h1v1h-1zM353 383h1v1h-1zM360 383h1v1h-1zM365 383h1v1h-1zM477 383h1v1h-1zM350 384h1v1h-1zM362 384h1v1h-1zM470 384h1v1h-1zM488 384h1v1h-1zM367 385h1v1h-1zM370 385h1v1h-1zM380 385h1v1h-1zM343 386h1v1h-1zM476 386h1v1h-1zM484 386h1v1h-1zM371 387h1v1h-1zM377 387h1v1h-1zM381 388h1v1h-1zM329 395h1v1h-1zM330 401h1v1h-1zM328 402h1v1h-1zM332 402h1v1h-1zM330 405h1v1h-1zM343 405h1v1h-1zM379 405h1v1h-1zM383 405h1v1h-1zM435 405h1v1h-1zM467 405h1v1h-1zM350 406h1v1h-1zM353 406h1v1h-1zM357 406h1v1h-1zM378 406h1v1h-1zM382 406h1v1h-1zM456 406h1v1h-1zM459 406h1v1h-1zM463 406h1v1h-1zM329 407h1v1h-1zM357 407h1v1h-1zM374 407h1v1h-1zM457 407h1v1h-1zM469 407h2v1h-2zM328 408h1v1h-1zM349 408h1v1h-1zM457 408h2v1h-2zM466 408h1v1h-1zM480 408h1v1h-1zM333 409h1v1h-1zM347 409h1v1h-1zM350 409h1v1h-1zM378 409h1v1h-1zM382 409h1v1h-1zM432 409h1v1h-1zM439 409h1v1h-1zM453 409h1v1h-1zM458 409h2v1h-2zM466 409h1v1h-1zM468 409h1v1h-1zM470 409h1v1h-1zM478 409h1v1h-1zM333 410h1v1h-1zM337 410h1v1h-1zM340 410h1v1h-1zM356 410h1v1h-1zM368 410h1v1h-1zM444 410h1v1h-1zM456 410h1v1h-1zM468 410h1v1h-1zM486 410h2v1h-2zM347 411h1v1h-1zM366 411h1v1h-1zM465 411h1v1h-1zM352 412h1v1h-1zM368 412h1v1h-1zM387 412h1v1h-1zM432 412h1v1h-1zM445 412h2v1h-2zM454 412h1v1h-1zM472 412h1v1h-1zM477 412h1v1h-1zM350 413h1v1h-1zM374 413h1v1h-1zM377 413h1v1h-1zM440 413h1v1h-1zM452 413h1v1h-1zM455 413h1v1h-1zM482 413h1v1h-1zM335 414h1v1h-1zM368 414h1v1h-1zM429 414h1v1h-1zM441 414h1v1h-1zM456 414h1v1h-1zM458 414h1v1h-1zM333 415h1v1h-1zM336 415h1v1h-1zM351 415h1v1h-1zM354 415h1v1h-1zM383 415h1v1h-1zM385 415h1v1h-1zM430 415h1v1h-1zM437 415h3v1h-3zM441 415h1v1h-1zM476 415h1v1h-1zM486 415h1v1h-1zM333 416h1v1h-1zM361 416h1v1h-1zM376 416h1v1h-1zM382 416h1v1h-1zM385 416h1v1h-1zM431 416h1v1h-1zM438 416h1v1h-1zM469 416h1v1h-1zM481 416h1v1h-1zM357 417h1v1h-1zM361 417h1v1h-1zM444 417h1v1h-1zM449 417h1v1h-1zM472 417h2v1h-2zM476 417h1v1h-1zM479 417h2v1h-2zM335 418h2v1h-2zM359 418h1v1h-1zM371 418h1v1h-1zM456 418h2v1h-2zM472 418h1v1h-1zM370 419h1v1h-1zM435 419h1v1h-1zM465 419h1v1h-1zM478 419h1v1h-1zM487 419h1v1h-1zM380 420h2v1h-2zM437 420h1v1h-1zM470 420h1v1h-1zM492 420h1v1h-1zM350 421h1v1h-1zM438 421h1v1h-1zM457 421h1v1h-1zM463 421h1v1h-1zM477 421h1v1h-1zM479 421h1v1h-1zM488 421h1v1h-1zM437 422h1v1h-1zM460 422h1v1h-1z" fill="#9D9D9D" shape-rendering="crispEdges"/>
<path d="M356 99h1v1h-1zM463 99h1v1h-1zM469 99h1v1h-1zM344 100h1v1h-1zM346 100h1v1h-1zM356 100h1v1h-1zM358 100h1v1h-1zM452 100h2v1h-2zM460 100h1v1h-1zM468 100h1v1h-1zM335 101h1v1h-1zM344 101h1v1h-1zM435 101h1v1h-1zM469 101h1v1h-1zM483 101h1v1h-1zM335 102h1v1h-1zM344 102h1v1h-1zM367 102h1v1h-1zM429 102h1v1h-1zM485 102h1v1h-1zM490 102h1v1h-1zM346 103h2v1h-2zM350 103h1v1h-1zM353 103h1v1h-1zM357 103h1v1h-1zM433 103h1v1h-1zM435 103h1v1h-1zM444 103h2v1h-2zM448 103h1v1h-1zM452 103h1v1h-1zM454 103h1v1h-1zM471 103h1v1h-1zM485 103h1v1h-1zM490 103h1v1h-1zM334 104h1v1h-1zM340 104h1v1h-1zM342 104h1v1h-1zM344 104h1v1h-1zM346 104h1v1h-1zM350 104h1v1h-1zM374 104h1v1h-1zM376 104h1v1h-1zM378 104h2v1h-2zM435 104h1v1h-1zM438 104h1v1h-1zM444 104h4v1h-4zM458 104h2v1h-2zM462 104h1v1h-1zM464 104h3v1h-3zM483 104h3v1h-3zM487 104h1v1h-1zM330 105h1v1h-1zM339 105h1v1h-1zM345 105h1v1h-1zM347 105h3v1h-3zM351 105h2v1h-2zM371 105h1v1h-1zM374 105h1v1h-1zM376 105h1v1h-1zM379 105h1v1h-1zM436 105h1v1h-1zM441 105h1v1h-1zM458 105h1v1h-1zM463 105h1v1h-1zM476 105h1v1h-1zM341 106h1v1h-1zM366 106h1v1h-1zM376 106h2v1h-2zM430 106h1v1h-1zM439 106h1v1h-1zM441 106h1v1h-1zM449 106h1v1h-1zM470 106h1v1h-1zM474 106h3v1h-3zM478 106h1v1h-1zM481 106h1v1h-1zM329 107h2v1h-2zM335 107h2v1h-2zM338 107h1v1h-1zM341 107h1v1h-1zM346 107h1v1h-1zM349 107h1v1h-1zM352 107h1v1h-1zM366 107h1v1h-1zM369 107h1v1h-1zM375 107h1v1h-1zM436 107h1v1h-1zM440 107h1v1h-1zM470 107h1v1h-1zM478 107h1v1h-1zM482 107h3v1h-3zM486 107h1v1h-1zM336 108h1v1h-1zM342 108h1v1h-1zM344 108h1v1h-1zM375 108h1v1h-1zM433 108h1v1h-1zM438 108h1v1h-1zM444 108h1v1h-1zM448 108h1v1h-1zM453 108h1v1h-1zM461 108h1v1h-1zM469 108h1v1h-1zM477 108h1v1h-1zM486 108h2v1h-2zM334 109h1v1h-1zM344 109h1v1h-1zM346 109h1v1h-1zM348 109h1v1h-1zM351 109h1v1h-1zM369 109h1v1h-1zM371 109h1v1h-1zM374 109h1v1h-1zM377 109h1v1h-1zM379 109h1v1h-1zM428 109h1v1h-1zM431 109h1v1h-1zM440 109h1v1h-1zM450 109h1v1h-1zM461 109h1v1h-1zM464 109h1v1h-1zM469 109h1v1h-1zM473 109h2v1h-2zM334 110h1v1h-1zM340 110h1v1h-1zM346 110h1v1h-1zM348 110h1v1h-1zM353 110h1v1h-1zM370 110h1v1h-1zM379 110h1v1h-1zM437 110h2v1h-2zM445 110h1v1h-1zM460 110h1v1h-1zM466 110h1v1h-1zM470 110h1v1h-1zM472 110h1v1h-1zM476 110h1v1h-1zM481 110h1v1h-1zM328 111h1v1h-1zM332 111h2v1h-2zM338 111h1v1h-1zM343 111h1v1h-1zM349 111h1v1h-1zM373 111h1v1h-1zM378 111h1v1h-1zM464 111h1v1h-1zM470 111h1v1h-1zM475 111h1v1h-1zM479 111h1v1h-1zM482 111h1v1h-1zM484 111h1v1h-1zM487 111h1v1h-1zM332 112h1v1h-1zM341 112h1v1h-1zM349 112h1v1h-1zM426 112h1v1h-1zM428 112h1v1h-1zM435 112h1v1h-1zM444 112h1v1h-1zM470 112h1v1h-1zM474 112h1v1h-1zM478 112h1v1h-1zM486 112h1v1h-1zM335 113h1v1h-1zM339 113h1v1h-1zM350 113h1v1h-1zM369 113h3v1h-3zM373 113h1v1h-1zM377 113h1v1h-1zM429 113h1v1h-1zM435 113h1v1h-1zM452 113h1v1h-1zM463 113h1v1h-1zM467 113h1v1h-1zM475 113h1v1h-1zM477 113h1v1h-1zM331 114h1v1h-1zM338 114h1v1h-1zM347 114h2v1h-2zM367 114h1v1h-1zM374 114h1v1h-1zM429 114h1v1h-1zM436 114h1v1h-1zM453 114h1v1h-1zM464 114h1v1h-1zM471 114h1v1h-1zM478 114h1v1h-1zM482 114h2v1h-2zM334 115h1v1h-1zM349 115h1v1h-1zM353 115h1v1h-1zM372 115h1v1h-1zM383 115h1v1h-1zM438 115h1v1h-1zM457 115h1v1h-1zM459 115h1v1h-1zM464 115h2v1h-2zM468 115h1v1h-1zM335 116h1v1h-1zM352 116h1v1h-1zM377 116h1v1h-1zM459 116h2v1h-2zM471 116h1v1h-1zM477 116h1v1h-1zM331 117h1v1h-1zM333 117h1v1h-1zM336 117h1v1h-1zM351 117h1v1h-1zM375 117h1v1h-1zM463 117h1v1h-1zM465 117h1v1h-1zM471 117h1v1h-1zM479 117h1v1h-1zM330 118h1v1h-1zM349 118h1v1h-1zM432 118h2v1h-2zM450 118h1v1h-1zM460 118h1v1h-1zM468 118h1v1h-1zM466 119h1v1h-1zM438 120h1v1h-1zM449 120h1v1h-1zM448 121h1v1h-1zM434 122h1v1h-1zM440 122h1v1h-1zM329 137h1v1h-1zM331 138h1v1h-1zM469 138h1v1h-1zM471 138h1v1h-1zM330 139h1v1h-1zM473 139h1v1h-1zM473 140h1v1h-1zM353 141h1v1h-1zM356 141h1v1h-1zM441 141h1v1h-1zM468 141h1v1h-1zM476 141h1v1h-1zM478 141h1v1h-1zM334 142h1v1h-1zM471 142h3v1h-3zM479 142h1v1h-1zM329 143h1v1h-1zM337 143h1v1h-1zM469 143h1v1h-1zM474 143h1v1h-1zM477 143h1v1h-1zM357 144h1v1h-1zM464 144h1v1h-1zM466 144h1v1h-1zM468 144h1v1h-1zM470 144h1v1h-1zM474 144h1v1h-1zM330 145h1v1h-1zM342 145h1v1h-1zM358 145h1v1h-1zM468 145h2v1h-2zM473 145h1v1h-1zM328 146h2v1h-2zM336 146h1v1h-1zM338 146h1v1h-1zM352 146h2v1h-2zM356 146h1v1h-1zM359 146h1v1h-1zM362 146h2v1h-2zM444 146h1v1h-1zM454 146h1v1h-1zM473 146h1v1h-1zM477 146h1v1h-1zM480 146h1v1h-1zM335 147h1v1h-1zM337 147h1v1h-1zM340 147h1v1h-1zM347 147h1v1h-1zM357 147h1v1h-1zM362 147h2v1h-2zM366 147h2v1h-2zM475 147h1v1h-1zM478 147h2v1h-2zM482 147h1v1h-1zM333 148h1v1h-1zM337 148h2v1h-2zM346 148h1v1h-1zM350 148h1v1h-1zM361 148h1v1h-1zM364 148h1v1h-1zM443 148h1v1h-1zM449 148h1v1h-1zM475 148h2v1h-2zM479 148h1v1h-1zM339 149h1v1h-1zM353 149h1v1h-1zM359 149h1v1h-1zM362 149h1v1h-1zM364 149h1v1h-1zM368 149h1v1h-1zM439 149h2v1h-2zM476 149h1v1h-1zM492 149h1v1h-1zM330 150h1v1h-1zM335 150h1v1h-1zM371 150h1v1h-1zM446 150h1v1h-1zM448 150h2v1h-2zM451 150h1v1h-1zM463 150h1v1h-1zM467 150h1v1h-1zM476 150h2v1h-2zM479 150h1v1h-1zM481 150h1v1h-1zM353 151h2v1h-2zM360 151h1v1h-1zM369 151h1v1h-1zM438 151h1v1h-1zM453 151h1v1h-1zM456 151h1v1h-1zM460 151h1v1h-1zM485 151h1v1h-1zM353 152h1v1h-1zM355 152h1v1h-1zM357 152h1v1h-1zM359 152h1v1h-1zM363 152h2v1h-2zM372 152h1v1h-1zM436 152h2v1h-2zM447 152h1v1h-1zM453 152h1v1h-1zM457 152h1v1h-1zM462 152h1v1h-1zM486 152h1v1h-1zM331 153h1v1h-1zM359 153h3v1h-3zM366 153h2v1h-2zM444 153h2v1h-2zM449 153h1v1h-1zM458 153h1v1h-1zM479 153h2v1h-2zM332 154h1v1h-1zM338 154h1v1h-1zM352 154h1v1h-1zM355 154h1v1h-1zM358 154h1v1h-1zM363 154h1v1h-1zM369 154h1v1h-1zM378 154h1v1h-1zM439 154h1v1h-1zM450 154h1v1h-1zM452 154h1v1h-1zM460 154h1v1h-1zM462 154h2v1h-2zM366 155h1v1h-1zM372 155h1v1h-1zM375 155h1v1h-1zM383 155h1v1h-1zM442 155h1v1h-1zM453 155h1v1h-1zM455 155h1v1h-1zM457 155h2v1h-2zM460 155h1v1h-1zM462 155h1v1h-1zM485 155h1v1h-1zM491 155h1v1h-1zM359 156h1v1h-1zM361 156h2v1h-2zM365 156h4v1h-4zM371 156h1v1h-1zM438 156h1v1h-1zM442 156h3v1h-3zM458 156h1v1h-1zM462 156h2v1h-2zM339 157h1v1h-1zM363 157h1v1h-1zM365 157h1v1h-1zM371 157h1v1h-1zM374 157h1v1h-1zM452 157h2v1h-2zM461 157h1v1h-1zM465 157h1v1h-1zM475 157h2v1h-2zM482 157h1v1h-1zM484 157h1v1h-1zM486 157h1v1h-1zM368 158h1v1h-1zM380 158h1v1h-1zM438 158h1v1h-1zM443 158h1v1h-1zM453 158h3v1h-3zM369 159h1v1h-1zM372 159h1v1h-1zM441 159h1v1h-1zM463 159h1v1h-1zM481 159h2v1h-2zM375 160h1v1h-1zM382 160h1v1h-1zM436 160h1v1h-1zM453 160h1v1h-1zM479 160h1v1h-1zM482 160h1v1h-1zM484 160h2v1h-2zM358 161h1v1h-1zM373 161h2v1h-2zM448 161h1v1h-1zM479 161h1v1h-1zM365 162h1v1h-1zM368 162h1v1h-1zM377 162h1v1h-1zM381 162h1v1h-1zM436 162h1v1h-1zM457 162h1v1h-1zM460 162h1v1h-1zM465 162h1v1h-1zM490 162h1v1h-1zM368 163h1v1h-1zM456 163h1v1h-1zM467 163h1v1h-1zM475 163h1v1h-1zM478 163h1v1h-1zM480 163h1v1h-1zM489 163h1v1h-1zM430 164h1v1h-1zM461 164h1v1h-1zM478 164h1v1h-1zM480 164h1v1h-1zM368 165h1v1h-1zM455 165h1v1h-1zM484 165h1v1h-1zM492 165h1v1h-1zM349 166h2v1h-2zM458 166h1v1h-1zM461 166h1v1h-1zM463 166h1v1h-1zM478 166h1v1h-1zM490 166h1v1h-1zM352 167h1v1h-1zM364 167h1v1h-1zM465 167h1v1h-1zM476 167h1v1h-1zM483 167h1v1h-1zM488 167h1v1h-1zM336 168h1v1h-1zM463 168h1v1h-1zM474 168h1v1h-1zM340 169h2v1h-2zM479 169h1v1h-1zM343 170h1v1h-1zM459 170h2v1h-2zM340 171h1v1h-1zM347 171h1v1h-1zM349 171h1v1h-1zM469 171h1v1h-1zM474 171h1v1h-1zM334 172h1v1h-1zM342 172h1v1h-1zM345 172h1v1h-1zM443 172h1v1h-1zM461 172h1v1h-1zM467 172h2v1h-2zM348 173h2v1h-2zM351 173h1v1h-1zM441 173h2v1h-2zM444 173h1v1h-1zM467 173h1v1h-1zM471 173h1v1h-1zM473 173h1v1h-1zM476 173h1v1h-1zM478 173h1v1h-1zM333 174h1v1h-1zM342 174h2v1h-2zM359 174h1v1h-1zM438 174h1v1h-1zM446 174h1v1h-1zM464 174h1v1h-1zM468 174h1v1h-1zM472 174h2v1h-2zM338 175h1v1h-1zM340 175h1v1h-1zM347 175h2v1h-2zM351 175h1v1h-1zM442 175h1v1h-1zM447 175h1v1h-1zM463 175h1v1h-1zM467 175h1v1h-1zM469 175h1v1h-1zM472 175h1v1h-1zM342 176h1v1h-1zM348 176h2v1h-2zM365 176h1v1h-1zM438 176h1v1h-1zM441 176h1v1h-1zM443 176h1v1h-1zM445 176h1v1h-1zM464 176h1v1h-1zM467 176h1v1h-1zM472 176h1v1h-1zM486 176h1v1h-1zM338 177h1v1h-1zM341 177h1v1h-1zM344 177h1v1h-1zM346 177h1v1h-1zM438 177h1v1h-1zM463 177h1v1h-1zM473 177h1v1h-1zM481 177h2v1h-2zM485 177h1v1h-1zM348 178h1v1h-1zM352 178h1v1h-1zM359 178h2v1h-2zM364 178h1v1h-1zM368 178h1v1h-1zM437 178h1v1h-1zM444 178h1v1h-1zM447 178h1v1h-1zM463 178h1v1h-1zM465 178h1v1h-1zM469 178h2v1h-2zM472 178h1v1h-1zM484 178h2v1h-2zM329 179h1v1h-1zM347 179h1v1h-1zM349 179h1v1h-1zM434 179h1v1h-1zM445 179h1v1h-1zM447 179h1v1h-1zM458 179h1v1h-1zM467 179h1v1h-1zM469 179h1v1h-1zM473 179h1v1h-1zM480 179h1v1h-1zM332 180h1v1h-1zM334 180h1v1h-1zM343 180h1v1h-1zM345 180h1v1h-1zM356 180h2v1h-2zM362 180h1v1h-1zM465 180h1v1h-1zM470 180h1v1h-1zM476 180h1v1h-1zM478 180h1v1h-1zM483 180h1v1h-1zM338 181h1v1h-1zM342 181h1v1h-1zM345 181h1v1h-1zM352 181h1v1h-1zM356 181h1v1h-1zM360 181h1v1h-1zM362 181h1v1h-1zM367 181h1v1h-1zM439 181h1v1h-1zM447 181h1v1h-1zM451 181h1v1h-1zM465 181h1v1h-1zM471 181h1v1h-1zM334 182h1v1h-1zM336 182h2v1h-2zM347 182h1v1h-1zM354 182h1v1h-1zM378 182h1v1h-1zM492 182h1v1h-1zM337 183h1v1h-1zM347 183h1v1h-1zM353 183h1v1h-1zM356 183h2v1h-2zM363 183h2v1h-2zM368 183h1v1h-1zM371 183h1v1h-1zM446 183h1v1h-1zM450 183h1v1h-1zM477 183h1v1h-1zM479 183h1v1h-1zM338 184h1v1h-1zM358 184h1v1h-1zM374 184h1v1h-1zM378 184h1v1h-1zM444 184h1v1h-1zM447 184h2v1h-2zM451 184h1v1h-1zM464 184h1v1h-1zM467 184h1v1h-1zM476 184h1v1h-1zM484 184h1v1h-1zM342 185h1v1h-1zM354 185h1v1h-1zM356 185h1v1h-1zM360 185h1v1h-1zM374 185h1v1h-1zM382 185h1v1h-1zM438 185h1v1h-1zM443 185h1v1h-1zM445 185h1v1h-1zM452 185h1v1h-1zM459 185h1v1h-1zM470 185h1v1h-1zM475 185h1v1h-1zM332 186h1v1h-1zM337 186h1v1h-1zM346 186h1v1h-1zM356 186h3v1h-3zM360 186h1v1h-1zM377 186h1v1h-1zM387 186h1v1h-1zM441 186h1v1h-1zM460 186h1v1h-1zM478 186h1v1h-1zM480 186h1v1h-1zM335 187h1v1h-1zM352 187h1v1h-1zM384 187h1v1h-1zM436 187h1v1h-1zM442 187h3v1h-3zM454 187h1v1h-1zM456 187h1v1h-1zM469 187h2v1h-2zM482 187h2v1h-2zM334 188h1v1h-1zM344 188h1v1h-1zM357 188h1v1h-1zM362 188h1v1h-1zM365 188h1v1h-1zM377 188h1v1h-1zM379 188h1v1h-1zM436 188h1v1h-1zM442 188h1v1h-1zM444 188h1v1h-1zM447 188h1v1h-1zM473 188h1v1h-1zM477 188h2v1h-2zM369 189h1v1h-1zM371 189h1v1h-1zM377 189h1v1h-1zM379 189h1v1h-1zM436 189h1v1h-1zM442 189h1v1h-1zM444 189h1v1h-1zM446 189h1v1h-1zM449 189h1v1h-1zM457 189h1v1h-1zM464 189h1v1h-1zM475 189h2v1h-2zM337 190h3v1h-3zM361 190h1v1h-1zM363 190h1v1h-1zM366 190h1v1h-1zM373 190h1v1h-1zM377 190h1v1h-1zM386 190h1v1h-1zM439 190h1v1h-1zM443 190h1v1h-1zM449 190h1v1h-1zM451 190h1v1h-1zM454 190h1v1h-1zM456 190h1v1h-1zM458 190h1v1h-1zM335 191h1v1h-1zM337 191h1v1h-1zM353 191h1v1h-1zM361 191h1v1h-1zM375 191h1v1h-1zM380 191h1v1h-1zM438 191h2v1h-2zM445 191h1v1h-1zM456 191h1v1h-1zM469 191h1v1h-1zM471 191h2v1h-2zM474 191h1v1h-1zM372 192h1v1h-1zM374 192h1v1h-1zM378 192h1v1h-1zM440 192h1v1h-1zM446 192h1v1h-1zM450 192h1v1h-1zM452 192h1v1h-1zM455 192h2v1h-2zM459 192h1v1h-1zM463 192h1v1h-1zM466 192h2v1h-2zM472 192h2v1h-2zM476 192h1v1h-1zM336 193h1v1h-1zM340 193h1v1h-1zM430 193h1v1h-1zM454 193h1v1h-1zM456 193h1v1h-1zM470 193h1v1h-1zM477 193h1v1h-1zM482 193h1v1h-1zM363 194h1v1h-1zM377 194h1v1h-1zM379 194h3v1h-3zM439 194h3v1h-3zM455 194h1v1h-1zM466 194h1v1h-1zM478 194h1v1h-1zM480 194h2v1h-2zM487 194h1v1h-1zM365 195h1v1h-1zM380 195h2v1h-2zM386 195h1v1h-1zM441 195h1v1h-1zM444 195h1v1h-1zM447 195h1v1h-1zM453 195h1v1h-1zM474 195h2v1h-2zM477 195h1v1h-1zM332 196h2v1h-2zM335 196h1v1h-1zM389 196h1v1h-1zM444 196h1v1h-1zM447 196h2v1h-2zM452 196h1v1h-1zM463 196h2v1h-2zM475 196h1v1h-1zM481 196h1v1h-1zM337 197h1v1h-1zM386 197h1v1h-1zM391 197h1v1h-1zM432 197h1v1h-1zM437 197h1v1h-1zM441 197h1v1h-1zM445 197h1v1h-1zM448 197h1v1h-1zM471 197h1v1h-1zM331 198h1v1h-1zM336 198h1v1h-1zM375 198h1v1h-1zM390 198h1v1h-1zM426 198h1v1h-1zM432 198h1v1h-1zM439 198h1v1h-1zM444 198h1v1h-1zM448 198h1v1h-1zM469 198h1v1h-1zM473 198h1v1h-1zM477 198h2v1h-2zM480 198h1v1h-1zM330 199h2v1h-2zM335 199h2v1h-2zM339 199h2v1h-2zM429 199h1v1h-1zM453 199h1v1h-1zM475 199h1v1h-1zM477 199h1v1h-1zM479 199h1v1h-1zM334 200h1v1h-1zM338 200h1v1h-1zM340 200h1v1h-1zM350 200h1v1h-1zM364 200h1v1h-1zM371 200h1v1h-1zM376 200h1v1h-1zM385 200h1v1h-1zM432 200h3v1h-3zM450 200h2v1h-2zM473 200h1v1h-1zM479 200h1v1h-1zM330 201h1v1h-1zM334 201h1v1h-1zM336 201h1v1h-1zM341 201h1v1h-1zM343 201h1v1h-1zM368 201h1v1h-1zM388 201h1v1h-1zM390 201h1v1h-1zM444 201h1v1h-1zM451 201h1v1h-1zM464 201h1v1h-1zM330 202h1v1h-1zM332 202h2v1h-2zM335 202h2v1h-2zM338 202h1v1h-1zM351 202h1v1h-1zM370 202h2v1h-2zM390 202h1v1h-1zM434 202h1v1h-1zM438 202h1v1h-1zM443 202h1v1h-1zM445 202h2v1h-2zM466 202h1v1h-1zM469 202h2v1h-2zM331 203h2v1h-2zM337 203h1v1h-1zM342 203h2v1h-2zM360 203h1v1h-1zM366 203h1v1h-1zM377 203h1v1h-1zM380 203h1v1h-1zM389 203h1v1h-1zM434 203h1v1h-1zM436 203h1v1h-1zM467 203h1v1h-1zM469 203h2v1h-2zM332 204h1v1h-1zM334 204h1v1h-1zM347 204h2v1h-2zM353 204h1v1h-1zM363 204h1v1h-1zM365 204h1v1h-1zM367 204h1v1h-1zM379 204h1v1h-1zM429 204h1v1h-1zM433 204h1v1h-1zM465 204h2v1h-2zM469 204h1v1h-1zM471 204h1v1h-1zM332 205h1v1h-1zM349 205h1v1h-1zM351 205h1v1h-1zM363 205h1v1h-1zM443 205h1v1h-1zM469 205h1v1h-1zM475 205h1v1h-1zM339 206h1v1h-1zM346 206h2v1h-2zM350 206h1v1h-1zM354 206h1v1h-1zM492 206h1v1h-1zM334 207h1v1h-1zM337 207h2v1h-2zM351 207h1v1h-1zM363 207h3v1h-3zM367 207h1v1h-1zM370 207h2v1h-2zM339 208h1v1h-1zM347 208h2v1h-2zM351 208h1v1h-1zM372 208h1v1h-1zM376 208h1v1h-1zM440 208h1v1h-1zM341 209h1v1h-1zM343 209h1v1h-1zM353 209h1v1h-1zM365 209h1v1h-1zM368 209h1v1h-1zM371 209h1v1h-1zM375 209h1v1h-1zM435 209h1v1h-1zM340 210h1v1h-1zM343 210h1v1h-1zM362 210h1v1h-1zM378 210h1v1h-1zM340 211h3v1h-3zM344 211h1v1h-1zM346 211h2v1h-2zM352 211h1v1h-1zM377 211h1v1h-1zM433 211h1v1h-1zM454 211h1v1h-1zM338 212h2v1h-2zM357 212h1v1h-1zM365 212h1v1h-1zM367 212h1v1h-1zM459 212h1v1h-1zM340 213h1v1h-1zM344 213h1v1h-1zM347 213h2v1h-2zM350 213h1v1h-1zM371 213h1v1h-1zM377 213h2v1h-2zM452 213h1v1h-1zM454 213h1v1h-1zM456 213h1v1h-1zM482 213h1v1h-1zM337 214h1v1h-1zM342 214h1v1h-1zM344 214h1v1h-1zM346 214h1v1h-1zM357 214h1v1h-1zM363 214h1v1h-1zM376 214h1v1h-1zM379 214h1v1h-1zM339 215h1v1h-1zM341 215h1v1h-1zM343 215h1v1h-1zM346 215h1v1h-1zM350 215h1v1h-1zM355 215h1v1h-1zM372 215h1v1h-1zM378 215h1v1h-1zM445 215h1v1h-1zM451 215h1v1h-1zM336 216h1v1h-1zM340 216h1v1h-1zM346 216h1v1h-1zM351 216h1v1h-1zM365 216h1v1h-1zM370 216h3v1h-3zM453 216h1v1h-1zM341 217h1v1h-1zM350 217h1v1h-1zM370 217h1v1h-1zM372 217h1v1h-1zM450 217h1v1h-1zM454 217h1v1h-1zM341 218h3v1h-3zM362 218h1v1h-1zM364 218h1v1h-1zM367 218h1v1h-1zM372 218h1v1h-1zM376 218h1v1h-1zM445 218h1v1h-1zM449 218h1v1h-1zM455 218h1v1h-1zM460 218h1v1h-1zM480 218h1v1h-1zM350 219h1v1h-1zM372 219h1v1h-1zM449 219h2v1h-2zM477 219h1v1h-1zM483 219h1v1h-1zM367 220h1v1h-1zM376 220h1v1h-1zM443 220h1v1h-1zM450 220h1v1h-1zM484 220h1v1h-1zM370 221h1v1h-1zM446 221h1v1h-1zM448 221h2v1h-2zM451 221h1v1h-1zM455 221h1v1h-1zM474 221h2v1h-2zM477 221h1v1h-1zM483 221h1v1h-1zM457 222h1v1h-1zM481 222h1v1h-1zM451 223h1v1h-1zM465 223h1v1h-1zM477 223h1v1h-1zM483 223h1v1h-1zM487 223h1v1h-1zM492 223h1v1h-1zM368 224h1v1h-1zM371 224h1v1h-1zM453 224h1v1h-1zM474 224h1v1h-1zM478 224h2v1h-2zM451 225h1v1h-1zM454 225h1v1h-1zM458 225h1v1h-1zM464 225h1v1h-1zM479 225h1v1h-1zM482 225h1v1h-1zM487 225h1v1h-1zM491 225h1v1h-1zM367 226h1v1h-1zM369 226h1v1h-1zM445 226h1v1h-1zM448 226h1v1h-1zM451 226h2v1h-2zM478 226h2v1h-2zM481 226h2v1h-2zM484 226h4v1h-4zM368 227h1v1h-1zM452 227h2v1h-2zM456 227h1v1h-1zM464 227h1v1h-1zM481 227h2v1h-2zM371 228h1v1h-1zM453 228h1v1h-1zM462 228h1v1h-1zM473 228h1v1h-1zM481 228h3v1h-3zM486 228h3v1h-3zM490 228h1v1h-1zM440 229h1v1h-1zM471 229h1v1h-1zM473 229h3v1h-3zM477 229h1v1h-1zM479 229h1v1h-1zM484 229h2v1h-2zM364 230h1v1h-1zM370 230h2v1h-2zM440 230h1v1h-1zM470 230h1v1h-1zM377 231h1v1h-1zM431 231h1v1h-1zM437 231h2v1h-2zM461 231h1v1h-1zM468 231h1v1h-1zM474 231h1v1h-1zM478 231h1v1h-1zM483 231h2v1h-2zM368 232h1v1h-1zM370 232h2v1h-2zM373 232h1v1h-1zM441 232h1v1h-1zM469 232h1v1h-1zM476 232h1v1h-1zM483 232h1v1h-1zM369 233h1v1h-1zM372 233h1v1h-1zM374 233h1v1h-1zM436 233h1v1h-1zM472 233h1v1h-1zM483 233h1v1h-1zM370 234h2v1h-2zM374 234h1v1h-1zM468 234h2v1h-2zM474 234h1v1h-1zM480 234h1v1h-1zM330 235h1v1h-1zM337 235h1v1h-1zM434 235h2v1h-2zM438 235h1v1h-1zM471 235h1v1h-1zM485 235h1v1h-1zM491 235h1v1h-1zM335 236h1v1h-1zM342 236h1v1h-1zM363 236h1v1h-1zM371 236h1v1h-1zM440 236h1v1h-1zM467 236h1v1h-1zM471 236h1v1h-1zM476 236h1v1h-1zM480 236h1v1h-1zM482 236h1v1h-1zM333 237h3v1h-3zM337 237h1v1h-1zM348 237h1v1h-1zM371 237h1v1h-1zM477 237h2v1h-2zM482 237h1v1h-1zM487 237h1v1h-1zM334 238h1v1h-1zM469 238h1v1h-1zM474 238h1v1h-1zM478 238h1v1h-1zM482 238h1v1h-1zM335 239h1v1h-1zM338 239h1v1h-1zM340 239h2v1h-2zM343 239h1v1h-1zM373 239h1v1h-1zM441 239h1v1h-1zM444 239h1v1h-1zM447 239h1v1h-1zM458 239h1v1h-1zM470 239h1v1h-1zM473 239h1v1h-1zM479 239h1v1h-1zM481 239h1v1h-1zM331 240h1v1h-1zM340 240h2v1h-2zM345 240h1v1h-1zM373 240h2v1h-2zM376 240h2v1h-2zM436 240h2v1h-2zM439 240h1v1h-1zM448 240h1v1h-1zM471 240h1v1h-1zM332 241h1v1h-1zM336 241h1v1h-1zM340 241h1v1h-1zM343 241h2v1h-2zM347 241h3v1h-3zM351 241h1v1h-1zM369 241h1v1h-1zM435 241h1v1h-1zM437 241h1v1h-1zM447 241h1v1h-1zM474 241h1v1h-1zM337 242h1v1h-1zM342 242h1v1h-1zM344 242h1v1h-1zM353 242h2v1h-2zM370 242h1v1h-1zM483 242h1v1h-1zM340 243h1v1h-1zM371 243h1v1h-1zM482 243h1v1h-1zM337 244h2v1h-2zM341 244h1v1h-1zM346 244h1v1h-1zM351 244h1v1h-1zM355 244h2v1h-2zM432 244h2v1h-2zM443 244h1v1h-1zM470 244h1v1h-1zM480 244h1v1h-1zM483 244h1v1h-1zM333 245h1v1h-1zM335 245h2v1h-2zM355 245h4v1h-4zM480 245h1v1h-1zM330 246h1v1h-1zM342 246h1v1h-1zM346 246h1v1h-1zM476 246h1v1h-1zM478 246h1v1h-1zM480 246h1v1h-1zM336 247h1v1h-1zM342 247h1v1h-1zM350 247h3v1h-3zM362 247h1v1h-1zM475 247h1v1h-1zM478 247h2v1h-2zM482 247h1v1h-1zM336 248h2v1h-2zM356 248h1v1h-1zM435 248h1v1h-1zM333 249h1v1h-1zM428 249h1v1h-1zM446 249h1v1h-1zM480 249h1v1h-1zM338 250h1v1h-1zM346 250h1v1h-1zM352 250h1v1h-1zM359 250h1v1h-1zM431 250h1v1h-1zM444 250h1v1h-1zM453 250h1v1h-1zM463 250h1v1h-1zM472 250h1v1h-1zM476 250h1v1h-1zM356 251h1v1h-1zM435 251h1v1h-1zM440 251h1v1h-1zM467 251h1v1h-1zM475 251h1v1h-1zM350 252h2v1h-2zM355 252h1v1h-1zM365 252h1v1h-1zM431 252h1v1h-1zM434 252h1v1h-1zM452 252h1v1h-1zM466 252h1v1h-1zM481 252h1v1h-1zM346 253h1v1h-1zM352 253h1v1h-1zM355 253h1v1h-1zM437 253h1v1h-1zM439 253h1v1h-1zM451 253h2v1h-2zM457 253h1v1h-1zM460 253h1v1h-1zM463 253h1v1h-1zM466 253h1v1h-1zM488 253h2v1h-2zM366 254h1v1h-1zM436 254h1v1h-1zM439 254h1v1h-1zM456 254h1v1h-1zM459 254h1v1h-1zM463 254h1v1h-1zM469 254h1v1h-1zM344 255h1v1h-1zM347 255h1v1h-1zM349 255h1v1h-1zM351 255h1v1h-1zM358 255h1v1h-1zM361 255h1v1h-1zM431 255h1v1h-1zM434 255h1v1h-1zM439 255h1v1h-1zM442 255h1v1h-1zM447 255h1v1h-1zM449 255h1v1h-1zM451 255h2v1h-2zM463 255h2v1h-2zM468 255h1v1h-1zM471 255h1v1h-1zM356 256h1v1h-1zM360 256h2v1h-2zM369 256h2v1h-2zM430 256h1v1h-1zM432 256h1v1h-1zM436 256h1v1h-1zM439 256h1v1h-1zM441 256h1v1h-1zM448 256h1v1h-1zM450 256h1v1h-1zM460 256h1v1h-1zM462 256h1v1h-1zM467 256h1v1h-1zM352 257h3v1h-3zM356 257h1v1h-1zM358 257h1v1h-1zM361 257h1v1h-1zM366 257h1v1h-1zM433 257h1v1h-1zM435 257h1v1h-1zM441 257h1v1h-1zM451 257h1v1h-1zM455 257h1v1h-1zM465 257h1v1h-1zM469 257h1v1h-1zM348 258h1v1h-1zM368 258h1v1h-1zM435 258h1v1h-1zM437 258h2v1h-2zM442 258h1v1h-1zM455 258h1v1h-1zM463 258h1v1h-1zM467 258h1v1h-1zM478 258h1v1h-1zM481 258h1v1h-1zM483 258h1v1h-1zM338 259h1v1h-1zM343 259h1v1h-1zM357 259h1v1h-1zM372 259h1v1h-1zM426 259h1v1h-1zM432 259h2v1h-2zM435 259h1v1h-1zM438 259h2v1h-2zM442 259h2v1h-2zM456 259h1v1h-1zM464 259h1v1h-1zM473 259h1v1h-1zM476 259h1v1h-1zM480 259h2v1h-2zM483 259h1v1h-1zM488 259h1v1h-1zM340 260h1v1h-1zM343 260h2v1h-2zM349 260h1v1h-1zM352 260h1v1h-1zM368 260h1v1h-1zM374 260h1v1h-1zM448 260h1v1h-1zM452 260h1v1h-1zM457 260h2v1h-2zM463 260h1v1h-1zM468 260h1v1h-1zM485 260h1v1h-1zM341 261h1v1h-1zM344 261h1v1h-1zM351 261h1v1h-1zM367 261h1v1h-1zM369 261h1v1h-1zM371 261h1v1h-1zM375 261h1v1h-1zM433 261h1v1h-1zM445 261h1v1h-1zM453 261h2v1h-2zM472 261h1v1h-1zM486 261h1v1h-1zM357 262h1v1h-1zM367 262h1v1h-1zM435 262h1v1h-1zM452 262h1v1h-1zM454 262h1v1h-1zM456 262h4v1h-4zM475 262h1v1h-1zM480 262h2v1h-2zM483 262h1v1h-1zM351 263h1v1h-1zM362 263h1v1h-1zM368 263h2v1h-2zM371 263h1v1h-1zM432 263h1v1h-1zM452 263h1v1h-1zM460 263h2v1h-2zM478 263h2v1h-2zM481 263h2v1h-2zM345 264h1v1h-1zM351 264h1v1h-1zM364 264h1v1h-1zM437 264h1v1h-1zM466 264h1v1h-1zM481 264h1v1h-1zM485 264h1v1h-1zM488 264h1v1h-1zM372 265h1v1h-1zM378 265h1v1h-1zM448 265h2v1h-2zM459 265h1v1h-1zM356 266h1v1h-1zM361 266h1v1h-1zM436 266h2v1h-2zM461 266h1v1h-1zM338 267h1v1h-1zM342 267h1v1h-1zM347 267h1v1h-1zM365 267h1v1h-1zM370 267h1v1h-1zM481 267h1v1h-1zM483 267h1v1h-1zM355 268h1v1h-1zM452 268h1v1h-1zM460 268h1v1h-1zM442 269h1v1h-1zM445 269h1v1h-1zM475 269h1v1h-1zM477 269h1v1h-1zM342 270h1v1h-1zM351 270h1v1h-1zM357 270h1v1h-1zM483 270h1v1h-1zM485 270h1v1h-1zM443 271h1v1h-1zM478 271h2v1h-2zM484 271h1v1h-1zM336 272h1v1h-1zM343 272h1v1h-1zM351 272h1v1h-1zM357 272h1v1h-1zM368 272h1v1h-1zM370 272h1v1h-1zM472 272h1v1h-1zM474 272h1v1h-1zM370 273h1v1h-1zM372 273h1v1h-1zM383 273h1v1h-1zM451 273h1v1h-1zM453 273h1v1h-1zM479 273h1v1h-1zM482 273h1v1h-1zM484 273h1v1h-1zM329 274h2v1h-2zM332 274h1v1h-1zM338 274h1v1h-1zM341 274h1v1h-1zM370 274h1v1h-1zM453 274h1v1h-1zM458 274h1v1h-1zM477 274h2v1h-2zM480 274h1v1h-1zM482 274h1v1h-1zM485 274h1v1h-1zM488 274h1v1h-1zM332 275h1v1h-1zM338 275h1v1h-1zM341 275h1v1h-1zM345 275h1v1h-1zM364 275h1v1h-1zM443 275h1v1h-1zM449 275h1v1h-1zM455 275h2v1h-2zM477 275h2v1h-2zM340 276h1v1h-1zM342 276h1v1h-1zM367 276h1v1h-1zM375 276h1v1h-1zM446 276h1v1h-1zM453 276h1v1h-1zM455 276h1v1h-1zM484 276h1v1h-1zM487 276h2v1h-2zM490 276h1v1h-1zM331 277h1v1h-1zM334 277h1v1h-1zM338 277h1v1h-1zM345 277h1v1h-1zM361 277h1v1h-1zM365 277h1v1h-1zM368 277h1v1h-1zM444 277h1v1h-1zM446 277h1v1h-1zM481 277h1v1h-1zM351 278h1v1h-1zM353 278h1v1h-1zM368 278h1v1h-1zM371 278h1v1h-1zM449 278h1v1h-1zM465 278h1v1h-1zM478 278h1v1h-1zM330 279h1v1h-1zM340 279h1v1h-1zM345 279h1v1h-1zM347 279h2v1h-2zM350 279h2v1h-2zM364 279h1v1h-1zM461 279h1v1h-1zM478 279h1v1h-1zM481 279h2v1h-2zM485 279h1v1h-1zM488 279h1v1h-1zM491 279h1v1h-1zM332 280h1v1h-1zM340 280h1v1h-1zM342 280h1v1h-1zM345 280h1v1h-1zM348 280h5v1h-5zM355 280h1v1h-1zM450 280h1v1h-1zM452 280h1v1h-1zM454 280h1v1h-1zM459 280h1v1h-1zM473 280h1v1h-1zM480 280h1v1h-1zM487 280h2v1h-2zM332 281h1v1h-1zM335 281h1v1h-1zM338 281h1v1h-1zM340 281h1v1h-1zM351 281h1v1h-1zM355 281h1v1h-1zM363 281h1v1h-1zM367 281h1v1h-1zM372 281h1v1h-1zM458 281h1v1h-1zM461 281h1v1h-1zM483 281h1v1h-1zM485 281h4v1h-4zM351 282h1v1h-1zM365 282h1v1h-1zM367 282h1v1h-1zM369 282h1v1h-1zM459 282h1v1h-1zM461 282h1v1h-1zM479 282h1v1h-1zM482 282h1v1h-1zM487 282h3v1h-3zM331 283h1v1h-1zM346 283h1v1h-1zM357 283h1v1h-1zM366 283h2v1h-2zM373 283h2v1h-2zM464 283h1v1h-1zM469 283h1v1h-1zM471 283h1v1h-1zM333 284h2v1h-2zM340 284h1v1h-1zM342 284h1v1h-1zM350 284h1v1h-1zM353 284h1v1h-1zM367 284h1v1h-1zM369 284h1v1h-1zM381 284h1v1h-1zM459 284h1v1h-1zM463 284h1v1h-1zM466 284h2v1h-2zM471 284h1v1h-1zM487 284h1v1h-1zM491 284h1v1h-1zM329 285h1v1h-1zM341 285h1v1h-1zM345 285h1v1h-1zM349 285h1v1h-1zM355 285h1v1h-1zM371 285h1v1h-1zM373 285h1v1h-1zM438 285h1v1h-1zM463 285h1v1h-1zM467 285h2v1h-2zM483 285h1v1h-1zM336 286h1v1h-1zM343 286h1v1h-1zM348 286h1v1h-1zM350 286h1v1h-1zM357 286h1v1h-1zM367 286h2v1h-2zM370 286h1v1h-1zM464 286h1v1h-1zM329 287h1v1h-1zM347 287h1v1h-1zM351 287h1v1h-1zM459 287h1v1h-1zM463 287h2v1h-2zM468 287h1v1h-1zM472 287h1v1h-1zM344 288h1v1h-1zM349 288h1v1h-1zM351 288h1v1h-1zM358 288h1v1h-1zM366 288h1v1h-1zM371 288h1v1h-1zM440 288h1v1h-1zM457 288h1v1h-1zM463 288h1v1h-1zM330 289h1v1h-1zM338 289h1v1h-1zM343 289h1v1h-1zM345 289h1v1h-1zM352 289h1v1h-1zM369 289h1v1h-1zM377 289h1v1h-1zM436 289h1v1h-1zM458 289h1v1h-1zM460 289h2v1h-2zM464 289h1v1h-1zM467 289h1v1h-1zM339 290h1v1h-1zM345 290h1v1h-1zM354 290h1v1h-1zM369 290h1v1h-1zM433 290h1v1h-1zM439 290h1v1h-1zM441 290h1v1h-1zM465 290h1v1h-1zM342 291h1v1h-1zM353 291h1v1h-1zM434 291h1v1h-1zM441 291h1v1h-1zM459 291h1v1h-1zM351 292h3v1h-3zM355 292h2v1h-2zM435 292h1v1h-1zM462 292h2v1h-2zM472 292h1v1h-1zM341 293h2v1h-2zM346 293h1v1h-1zM434 293h2v1h-2zM342 294h1v1h-1zM345 294h1v1h-1zM348 294h1v1h-1zM445 294h1v1h-1zM458 294h1v1h-1zM341 295h1v1h-1zM343 295h5v1h-5zM429 295h1v1h-1zM434 295h1v1h-1zM442 295h1v1h-1zM447 295h1v1h-1zM454 295h1v1h-1zM461 295h1v1h-1zM466 295h1v1h-1zM341 296h1v1h-1zM346 296h1v1h-1zM355 296h1v1h-1zM357 296h1v1h-1zM435 296h1v1h-1zM439 296h2v1h-2zM443 296h1v1h-1zM461 296h1v1h-1zM463 296h1v1h-1zM466 296h2v1h-2zM477 296h1v1h-1zM343 297h1v1h-1zM346 297h1v1h-1zM348 297h1v1h-1zM434 297h2v1h-2zM458 297h1v1h-1zM460 297h1v1h-1zM465 297h1v1h-1zM467 297h1v1h-1zM341 298h1v1h-1zM345 298h1v1h-1zM349 298h1v1h-1zM352 298h2v1h-2zM370 298h1v1h-1zM427 298h1v1h-1zM441 298h1v1h-1zM466 298h1v1h-1zM342 299h1v1h-1zM344 299h1v1h-1zM353 299h1v1h-1zM372 299h1v1h-1zM458 299h1v1h-1zM467 299h2v1h-2zM473 299h1v1h-1zM344 300h1v1h-1zM347 300h1v1h-1zM352 300h3v1h-3zM439 300h1v1h-1zM460 300h1v1h-1zM471 300h1v1h-1zM337 301h1v1h-1zM340 301h1v1h-1zM350 301h2v1h-2zM354 301h2v1h-2zM374 301h1v1h-1zM427 301h1v1h-1zM433 301h1v1h-1zM459 301h2v1h-2zM472 301h1v1h-1zM475 301h1v1h-1zM339 302h1v1h-1zM349 302h1v1h-1zM352 302h2v1h-2zM356 302h1v1h-1zM376 302h2v1h-2zM454 302h1v1h-1zM468 302h1v1h-1zM470 302h1v1h-1zM473 302h1v1h-1zM483 302h1v1h-1zM338 303h1v1h-1zM344 303h2v1h-2zM353 303h1v1h-1zM355 303h2v1h-2zM358 303h1v1h-1zM376 303h1v1h-1zM464 303h2v1h-2zM476 303h1v1h-1zM347 304h3v1h-3zM356 304h2v1h-2zM370 304h1v1h-1zM372 304h1v1h-1zM433 304h1v1h-1zM459 304h1v1h-1zM462 304h1v1h-1zM464 304h2v1h-2zM476 304h1v1h-1zM488 304h1v1h-1zM350 305h2v1h-2zM369 305h1v1h-1zM372 305h1v1h-1zM376 305h1v1h-1zM456 305h2v1h-2zM459 305h2v1h-2zM464 305h1v1h-1zM474 305h1v1h-1zM476 305h1v1h-1zM339 306h1v1h-1zM346 306h1v1h-1zM355 306h1v1h-1zM359 306h1v1h-1zM367 306h1v1h-1zM376 306h2v1h-2zM379 306h1v1h-1zM456 306h3v1h-3zM464 306h1v1h-1zM467 306h1v1h-1zM473 306h2v1h-2zM478 306h1v1h-1zM480 306h1v1h-1zM342 307h2v1h-2zM345 307h2v1h-2zM354 307h1v1h-1zM357 307h1v1h-1zM373 307h1v1h-1zM376 307h2v1h-2zM441 307h1v1h-1zM466 307h2v1h-2zM486 307h1v1h-1zM346 308h1v1h-1zM349 308h1v1h-1zM355 308h1v1h-1zM358 308h1v1h-1zM363 308h1v1h-1zM371 308h2v1h-2zM374 308h2v1h-2zM381 308h1v1h-1zM484 308h1v1h-1zM379 309h1v1h-1zM465 309h2v1h-2zM469 309h1v1h-1zM472 309h1v1h-1zM478 309h1v1h-1zM482 309h1v1h-1zM485 309h1v1h-1zM342 310h1v1h-1zM365 310h1v1h-1zM371 310h1v1h-1zM378 310h1v1h-1zM440 310h1v1h-1zM447 310h1v1h-1zM462 310h1v1h-1zM464 310h1v1h-1zM483 310h1v1h-1zM488 310h1v1h-1zM344 311h1v1h-1zM374 311h4v1h-4zM380 311h1v1h-1zM441 311h1v1h-1zM444 311h1v1h-1zM449 311h1v1h-1zM467 311h1v1h-1zM469 311h2v1h-2zM472 311h1v1h-1zM479 311h1v1h-1zM482 311h1v1h-1zM485 311h1v1h-1zM362 312h1v1h-1zM365 312h1v1h-1zM372 312h1v1h-1zM375 312h1v1h-1zM378 312h1v1h-1zM382 312h1v1h-1zM443 312h2v1h-2zM447 312h1v1h-1zM470 312h2v1h-2zM476 312h1v1h-1zM481 312h1v1h-1zM484 312h1v1h-1zM363 313h1v1h-1zM371 313h2v1h-2zM376 313h2v1h-2zM444 313h1v1h-1zM448 313h1v1h-1zM470 313h1v1h-1zM481 313h1v1h-1zM484 313h1v1h-1zM341 314h1v1h-1zM345 314h1v1h-1zM352 314h1v1h-1zM369 314h1v1h-1zM379 314h2v1h-2zM439 314h1v1h-1zM444 314h2v1h-2zM469 314h1v1h-1zM473 314h2v1h-2zM478 314h1v1h-1zM345 315h1v1h-1zM355 315h1v1h-1zM363 315h1v1h-1zM365 315h1v1h-1zM375 315h1v1h-1zM450 315h2v1h-2zM468 315h1v1h-1zM476 315h1v1h-1zM491 315h1v1h-1zM341 316h1v1h-1zM352 316h1v1h-1zM363 316h1v1h-1zM370 316h3v1h-3zM382 316h1v1h-1zM429 316h1v1h-1zM438 316h2v1h-2zM447 316h1v1h-1zM449 316h1v1h-1zM453 316h1v1h-1zM470 316h1v1h-1zM473 316h1v1h-1zM476 316h1v1h-1zM482 316h1v1h-1zM486 316h1v1h-1zM344 317h1v1h-1zM371 317h1v1h-1zM373 317h1v1h-1zM437 317h2v1h-2zM448 317h1v1h-1zM450 317h1v1h-1zM473 317h1v1h-1zM476 317h1v1h-1zM479 317h1v1h-1zM481 317h1v1h-1zM484 317h1v1h-1zM490 317h1v1h-1zM492 317h1v1h-1zM346 318h1v1h-1zM350 318h1v1h-1zM376 318h1v1h-1zM378 318h1v1h-1zM380 318h1v1h-1zM448 318h1v1h-1zM471 318h2v1h-2zM481 318h2v1h-2zM338 319h1v1h-1zM341 319h1v1h-1zM345 319h2v1h-2zM379 319h1v1h-1zM440 319h1v1h-1zM448 319h3v1h-3zM452 319h1v1h-1zM475 319h1v1h-1zM479 319h1v1h-1zM349 320h1v1h-1zM381 320h1v1h-1zM471 320h2v1h-2zM489 320h1v1h-1zM341 321h2v1h-2zM366 321h1v1h-1zM370 321h2v1h-2zM380 321h1v1h-1zM437 321h1v1h-1zM439 321h1v1h-1zM452 321h1v1h-1zM490 321h1v1h-1zM377 322h1v1h-1zM453 322h1v1h-1zM455 322h1v1h-1zM475 322h1v1h-1zM483 322h1v1h-1zM372 323h1v1h-1zM374 323h1v1h-1zM376 323h1v1h-1zM378 323h1v1h-1zM381 323h1v1h-1zM438 323h1v1h-1zM454 323h1v1h-1zM476 323h1v1h-1zM485 323h1v1h-1zM343 324h2v1h-2zM436 324h1v1h-1zM450 324h1v1h-1zM475 324h1v1h-1zM351 325h1v1h-1zM375 325h1v1h-1zM437 325h1v1h-1zM444 325h1v1h-1zM447 325h2v1h-2zM482 325h1v1h-1zM351 326h2v1h-2zM437 326h2v1h-2zM440 326h1v1h-1zM467 326h1v1h-1zM477 326h1v1h-1zM481 326h1v1h-1zM346 327h1v1h-1zM349 327h1v1h-1zM379 327h1v1h-1zM441 327h2v1h-2zM447 327h1v1h-1zM463 327h1v1h-1zM466 327h1v1h-1zM339 328h1v1h-1zM342 328h2v1h-2zM439 328h1v1h-1zM443 328h1v1h-1zM446 328h1v1h-1zM449 328h1v1h-1zM453 328h1v1h-1zM457 328h1v1h-1zM468 328h1v1h-1zM474 328h1v1h-1zM479 328h1v1h-1zM345 329h1v1h-1zM348 329h1v1h-1zM442 329h1v1h-1zM444 329h1v1h-1zM465 329h1v1h-1zM474 329h1v1h-1zM482 329h1v1h-1zM345 330h1v1h-1zM349 330h1v1h-1zM375 330h1v1h-1zM381 330h1v1h-1zM443 330h1v1h-1zM450 330h1v1h-1zM464 330h1v1h-1zM474 330h1v1h-1zM480 330h1v1h-1zM341 331h2v1h-2zM348 331h2v1h-2zM378 331h5v1h-5zM445 331h1v1h-1zM461 331h1v1h-1zM464 331h1v1h-1zM478 331h1v1h-1zM480 331h1v1h-1zM340 332h1v1h-1zM343 332h1v1h-1zM376 332h2v1h-2zM382 332h2v1h-2zM447 332h1v1h-1zM458 332h1v1h-1zM460 332h1v1h-1zM478 332h2v1h-2zM339 333h1v1h-1zM345 333h1v1h-1zM347 333h1v1h-1zM373 333h1v1h-1zM376 333h1v1h-1zM379 333h1v1h-1zM457 333h1v1h-1zM466 333h1v1h-1zM472 333h1v1h-1zM474 333h1v1h-1zM478 333h2v1h-2zM482 333h1v1h-1zM343 334h1v1h-1zM345 334h3v1h-3zM372 334h4v1h-4zM443 334h1v1h-1zM459 334h1v1h-1zM479 334h1v1h-1zM340 335h1v1h-1zM344 335h1v1h-1zM349 335h1v1h-1zM369 335h1v1h-1zM372 335h1v1h-1zM374 335h1v1h-1zM376 335h1v1h-1zM379 335h1v1h-1zM381 335h1v1h-1zM383 335h2v1h-2zM463 335h1v1h-1zM465 335h1v1h-1zM477 335h1v1h-1zM341 336h2v1h-2zM349 336h1v1h-1zM373 336h1v1h-1zM379 336h3v1h-3zM388 336h1v1h-1zM390 336h1v1h-1zM457 336h1v1h-1zM476 336h1v1h-1zM480 336h1v1h-1zM338 337h4v1h-4zM346 337h1v1h-1zM371 337h1v1h-1zM375 337h2v1h-2zM380 337h3v1h-3zM386 337h1v1h-1zM440 337h1v1h-1zM466 337h1v1h-1zM477 337h1v1h-1zM338 338h1v1h-1zM341 338h1v1h-1zM373 338h1v1h-1zM381 338h1v1h-1zM463 338h1v1h-1zM473 338h1v1h-1zM481 338h1v1h-1zM338 339h1v1h-1zM341 339h3v1h-3zM347 339h1v1h-1zM376 339h1v1h-1zM384 339h1v1h-1zM391 339h1v1h-1zM471 339h1v1h-1zM473 339h1v1h-1zM479 339h2v1h-2zM484 339h1v1h-1zM341 340h1v1h-1zM346 340h1v1h-1zM349 340h1v1h-1zM373 340h1v1h-1zM376 340h2v1h-2zM380 340h1v1h-1zM432 340h1v1h-1zM460 340h1v1h-1zM471 340h1v1h-1zM479 340h1v1h-1zM481 340h1v1h-1zM484 340h1v1h-1zM341 341h1v1h-1zM345 341h1v1h-1zM347 341h1v1h-1zM371 341h1v1h-1zM377 341h1v1h-1zM381 341h1v1h-1zM428 341h1v1h-1zM460 341h1v1h-1zM476 341h1v1h-1zM350 342h1v1h-1zM374 342h1v1h-1zM376 342h1v1h-1zM428 342h1v1h-1zM437 342h1v1h-1zM481 342h2v1h-2zM341 343h1v1h-1zM344 343h1v1h-1zM379 343h1v1h-1zM385 343h1v1h-1zM387 343h1v1h-1zM426 343h1v1h-1zM428 343h1v1h-1zM430 343h1v1h-1zM432 343h1v1h-1zM436 343h1v1h-1zM467 343h1v1h-1zM480 343h1v1h-1zM485 343h1v1h-1zM489 343h1v1h-1zM344 344h1v1h-1zM348 344h1v1h-1zM376 344h1v1h-1zM381 344h1v1h-1zM435 344h2v1h-2zM463 344h1v1h-1zM473 344h1v1h-1zM475 344h1v1h-1zM478 344h2v1h-2zM483 344h1v1h-1zM488 344h1v1h-1zM338 345h1v1h-1zM376 345h1v1h-1zM379 345h1v1h-1zM381 345h1v1h-1zM383 345h1v1h-1zM436 345h1v1h-1zM438 345h1v1h-1zM455 345h1v1h-1zM474 345h1v1h-1zM332 346h1v1h-1zM339 346h1v1h-1zM434 346h1v1h-1zM436 346h1v1h-1zM474 346h2v1h-2zM477 346h1v1h-1zM481 346h1v1h-1zM489 346h1v1h-1zM426 347h1v1h-1zM430 347h1v1h-1zM472 347h1v1h-1zM484 347h1v1h-1zM433 348h1v1h-1zM473 348h1v1h-1zM475 348h1v1h-1zM478 348h1v1h-1zM432 349h1v1h-1zM437 349h1v1h-1zM454 349h2v1h-2zM478 349h2v1h-2zM482 349h2v1h-2zM343 350h1v1h-1zM449 350h1v1h-1zM454 350h1v1h-1zM480 350h1v1h-1zM437 351h1v1h-1zM440 351h1v1h-1zM472 351h1v1h-1zM475 351h2v1h-2zM479 351h1v1h-1zM334 352h2v1h-2zM337 352h1v1h-1zM346 352h1v1h-1zM366 352h1v1h-1zM368 352h1v1h-1zM427 352h1v1h-1zM429 352h1v1h-1zM434 352h1v1h-1zM463 352h1v1h-1zM336 353h2v1h-2zM339 353h1v1h-1zM361 353h1v1h-1zM363 353h1v1h-1zM367 353h1v1h-1zM436 353h1v1h-1zM452 353h1v1h-1zM455 353h1v1h-1zM333 354h1v1h-1zM340 354h1v1h-1zM355 354h1v1h-1zM368 354h1v1h-1zM461 354h1v1h-1zM339 355h1v1h-1zM350 355h1v1h-1zM359 355h1v1h-1zM465 355h1v1h-1zM340 356h1v1h-1zM343 356h2v1h-2zM353 356h1v1h-1zM362 356h1v1h-1zM372 356h1v1h-1zM467 356h1v1h-1zM334 357h1v1h-1zM336 357h1v1h-1zM338 357h1v1h-1zM345 357h1v1h-1zM350 357h1v1h-1zM356 357h1v1h-1zM358 357h1v1h-1zM450 357h1v1h-1zM452 357h1v1h-1zM454 357h3v1h-3zM334 358h1v1h-1zM339 358h1v1h-1zM356 358h1v1h-1zM361 358h1v1h-1zM365 358h2v1h-2zM451 358h1v1h-1zM466 358h1v1h-1zM338 359h1v1h-1zM341 359h1v1h-1zM343 359h2v1h-2zM365 359h1v1h-1zM369 359h1v1h-1zM371 359h1v1h-1zM461 359h1v1h-1zM470 359h1v1h-1zM478 359h1v1h-1zM338 360h1v1h-1zM340 360h1v1h-1zM353 360h1v1h-1zM358 360h2v1h-2zM452 360h1v1h-1zM465 360h1v1h-1zM473 360h1v1h-1zM336 361h1v1h-1zM340 361h1v1h-1zM344 361h1v1h-1zM356 361h1v1h-1zM454 361h2v1h-2zM459 361h1v1h-1zM332 362h1v1h-1zM335 362h1v1h-1zM338 362h1v1h-1zM344 362h1v1h-1zM360 362h1v1h-1zM365 362h1v1h-1zM372 362h1v1h-1zM438 362h1v1h-1zM440 362h1v1h-1zM446 362h1v1h-1zM456 362h1v1h-1zM458 362h1v1h-1zM463 362h1v1h-1zM337 363h1v1h-1zM339 363h1v1h-1zM355 363h3v1h-3zM359 363h1v1h-1zM368 363h1v1h-1zM370 363h1v1h-1zM457 363h1v1h-1zM460 363h1v1h-1zM462 363h2v1h-2zM335 364h1v1h-1zM357 364h2v1h-2zM363 364h1v1h-1zM369 364h1v1h-1zM372 364h1v1h-1zM447 364h1v1h-1zM449 364h1v1h-1zM464 364h1v1h-1zM470 364h1v1h-1zM474 364h1v1h-1zM480 364h1v1h-1zM336 365h1v1h-1zM355 365h1v1h-1zM358 365h1v1h-1zM360 365h1v1h-1zM365 365h1v1h-1zM369 365h1v1h-1zM373 365h1v1h-1zM456 365h1v1h-1zM459 365h3v1h-3zM472 365h1v1h-1zM332 366h1v1h-1zM355 366h1v1h-1zM360 366h1v1h-1zM369 366h1v1h-1zM373 366h2v1h-2zM448 366h1v1h-1zM458 366h1v1h-1zM460 366h1v1h-1zM464 366h2v1h-2zM467 366h1v1h-1zM335 367h1v1h-1zM363 367h1v1h-1zM368 367h1v1h-1zM371 367h3v1h-3zM442 367h1v1h-1zM450 367h1v1h-1zM458 367h1v1h-1zM462 367h1v1h-1zM465 367h2v1h-2zM480 367h1v1h-1zM336 368h1v1h-1zM359 368h1v1h-1zM361 368h2v1h-2zM373 368h1v1h-1zM376 368h1v1h-1zM433 368h1v1h-1zM441 368h1v1h-1zM443 368h1v1h-1zM451 368h1v1h-1zM453 368h1v1h-1zM459 368h1v1h-1zM465 368h2v1h-2zM469 368h1v1h-1zM472 368h2v1h-2zM359 369h1v1h-1zM363 369h1v1h-1zM368 369h1v1h-1zM372 369h1v1h-1zM441 369h1v1h-1zM443 369h1v1h-1zM446 369h1v1h-1zM464 369h1v1h-1zM474 369h1v1h-1zM356 370h1v1h-1zM363 370h1v1h-1zM369 370h1v1h-1zM371 370h1v1h-1zM373 370h1v1h-1zM378 370h1v1h-1zM441 370h1v1h-1zM446 370h1v1h-1zM448 370h1v1h-1zM450 370h2v1h-2zM469 370h1v1h-1zM368 371h1v1h-1zM370 371h1v1h-1zM373 371h1v1h-1zM436 371h1v1h-1zM452 371h1v1h-1zM472 371h1v1h-1zM478 371h1v1h-1zM486 371h1v1h-1zM363 372h1v1h-1zM372 372h1v1h-1zM446 372h2v1h-2zM466 372h1v1h-1zM470 372h1v1h-1zM476 372h1v1h-1zM359 373h1v1h-1zM367 373h1v1h-1zM369 373h1v1h-1zM433 373h1v1h-1zM443 373h1v1h-1zM447 373h1v1h-1zM477 373h1v1h-1zM370 374h3v1h-3zM376 374h1v1h-1zM378 374h1v1h-1zM439 374h1v1h-1zM445 374h1v1h-1zM448 374h1v1h-1zM468 374h1v1h-1zM480 374h1v1h-1zM482 374h4v1h-4zM350 375h1v1h-1zM355 375h1v1h-1zM361 375h2v1h-2zM376 375h1v1h-1zM439 375h1v1h-1zM442 375h1v1h-1zM447 375h1v1h-1zM461 375h1v1h-1zM479 375h2v1h-2zM353 376h1v1h-1zM362 376h1v1h-1zM369 376h2v1h-2zM430 376h1v1h-1zM479 376h2v1h-2zM347 377h1v1h-1zM351 377h1v1h-1zM367 377h1v1h-1zM369 377h1v1h-1zM371 377h2v1h-2zM383 377h1v1h-1zM474 377h1v1h-1zM479 377h2v1h-2zM482 377h4v1h-4zM340 378h1v1h-1zM349 378h1v1h-1zM353 378h1v1h-1zM371 378h1v1h-1zM443 378h1v1h-1zM450 378h1v1h-1zM486 378h1v1h-1zM346 379h1v1h-1zM351 379h1v1h-1zM367 379h2v1h-2zM374 379h1v1h-1zM469 379h1v1h-1zM482 379h1v1h-1zM485 379h1v1h-1zM354 380h1v1h-1zM368 380h1v1h-1zM370 380h2v1h-2zM375 380h2v1h-2zM445 380h1v1h-1zM464 380h1v1h-1zM476 380h1v1h-1zM482 380h1v1h-1zM484 380h1v1h-1zM346 381h1v1h-1zM349 381h3v1h-3zM362 381h1v1h-1zM440 381h2v1h-2zM467 381h1v1h-1zM477 381h1v1h-1zM481 381h1v1h-1zM368 382h2v1h-2zM483 382h1v1h-1zM364 383h1v1h-1zM370 383h1v1h-1zM373 383h1v1h-1zM375 383h1v1h-1zM479 383h2v1h-2zM483 383h1v1h-1zM346 384h2v1h-2zM369 384h1v1h-1zM429 384h1v1h-1zM476 384h1v1h-1zM484 384h1v1h-1zM487 384h1v1h-1zM344 385h1v1h-1zM375 385h1v1h-1zM378 385h1v1h-1zM486 385h1v1h-1zM362 386h1v1h-1zM364 386h1v1h-1zM475 386h1v1h-1zM477 386h1v1h-1zM483 386h1v1h-1zM367 387h1v1h-1zM447 387h1v1h-1zM484 388h1v1h-1zM333 393h1v1h-1zM333 404h1v1h-1zM351 405h1v1h-1zM454 405h1v1h-1zM346 406h1v1h-1zM349 406h1v1h-1zM364 406h1v1h-1zM374 406h1v1h-1zM379 406h1v1h-1zM383 406h2v1h-2zM438 406h2v1h-2zM450 406h1v1h-1zM455 406h1v1h-1zM335 407h1v1h-1zM353 407h1v1h-1zM372 407h1v1h-1zM382 407h1v1h-1zM437 407h1v1h-1zM461 407h1v1h-1zM474 407h1v1h-1zM350 408h1v1h-1zM370 408h1v1h-1zM378 408h1v1h-1zM385 408h1v1h-1zM438 408h1v1h-1zM477 408h1v1h-1zM341 409h1v1h-1zM346 409h1v1h-1zM352 409h1v1h-1zM356 409h1v1h-1zM375 409h1v1h-1zM379 409h1v1h-1zM433 409h1v1h-1zM438 409h1v1h-1zM450 409h1v1h-1zM455 409h1v1h-1zM461 409h3v1h-3zM469 409h1v1h-1zM484 409h1v1h-1zM329 410h2v1h-2zM332 410h1v1h-1zM336 410h1v1h-1zM349 410h1v1h-1zM355 410h1v1h-1zM359 410h1v1h-1zM442 410h1v1h-1zM452 410h1v1h-1zM457 410h1v1h-1zM460 410h1v1h-1zM465 410h1v1h-1zM469 410h1v1h-1zM481 410h1v1h-1zM332 411h1v1h-1zM351 411h1v1h-1zM355 411h1v1h-1zM365 411h1v1h-1zM368 411h1v1h-1zM374 411h1v1h-1zM383 411h1v1h-1zM386 411h1v1h-1zM435 411h1v1h-1zM453 411h1v1h-1zM463 411h1v1h-1zM467 411h1v1h-1zM469 411h1v1h-1zM477 411h3v1h-3zM483 411h1v1h-1zM328 412h1v1h-1zM347 412h1v1h-1zM351 412h1v1h-1zM353 412h1v1h-1zM356 412h1v1h-1zM362 412h1v1h-1zM366 412h1v1h-1zM372 412h1v1h-1zM375 412h1v1h-1zM377 412h1v1h-1zM385 412h1v1h-1zM441 412h3v1h-3zM461 412h1v1h-1zM465 412h1v1h-1zM469 412h1v1h-1zM479 412h2v1h-2zM486 412h1v1h-1zM331 413h1v1h-1zM336 413h1v1h-1zM346 413h1v1h-1zM352 413h1v1h-1zM356 413h1v1h-1zM368 413h1v1h-1zM430 413h2v1h-2zM437 413h3v1h-3zM461 413h2v1h-2zM469 413h1v1h-1zM477 413h1v1h-1zM480 413h1v1h-1zM483 413h1v1h-1zM487 413h1v1h-1zM348 414h1v1h-1zM351 414h1v1h-1zM360 414h1v1h-1zM365 414h1v1h-1zM369 414h2v1h-2zM376 414h2v1h-2zM381 414h2v1h-2zM384 414h1v1h-1zM455 414h1v1h-1zM328 415h1v1h-1zM344 415h1v1h-1zM352 415h1v1h-1zM377 415h1v1h-1zM390 415h1v1h-1zM459 415h1v1h-1zM462 415h1v1h-1zM469 415h1v1h-1zM475 415h1v1h-1zM477 415h1v1h-1zM480 415h3v1h-3zM335 416h1v1h-1zM365 416h1v1h-1zM430 416h1v1h-1zM434 416h1v1h-1zM436 416h1v1h-1zM440 416h2v1h-2zM454 416h1v1h-1zM461 416h1v1h-1zM466 416h1v1h-1zM472 416h1v1h-1zM476 416h1v1h-1zM483 416h3v1h-3zM487 416h2v1h-2zM332 417h2v1h-2zM344 417h1v1h-1zM352 417h1v1h-1zM363 417h1v1h-1zM366 417h1v1h-1zM370 417h1v1h-1zM380 417h1v1h-1zM434 417h1v1h-1zM438 417h1v1h-1zM460 417h1v1h-1zM462 417h2v1h-2zM466 417h2v1h-2zM483 417h1v1h-1zM487 417h1v1h-1zM328 418h1v1h-1zM372 418h1v1h-1zM379 418h1v1h-1zM482 418h1v1h-1zM346 419h1v1h-1zM367 419h1v1h-1zM381 419h1v1h-1zM387 419h1v1h-1zM455 419h1v1h-1zM464 419h1v1h-1zM469 419h1v1h-1zM477 419h1v1h-1zM482 419h2v1h-2zM486 419h1v1h-1zM488 419h1v1h-1zM452 420h1v1h-1zM460 420h1v1h-1zM462 420h2v1h-2zM465 420h1v1h-1zM467 420h1v1h-1zM471 420h1v1h-1zM477 420h2v1h-2zM483 420h1v1h-1zM486 420h1v1h-1zM430 421h1v1h-1zM460 421h1v1h-1zM469 421h1v1h-1zM482 421h1v1h-1zM482 422h1v1h-1zM491 422h1v1h-1z" fill="#B2B2B2" shape-rendering="crispEdges"/>
<path d="M468 101h1v1h-1zM485 101h1v1h-1zM465 103h1v1h-1zM347 104h1v1h-1zM349 104h1v1h-1zM437 104h1v1h-1zM375 105h1v1h-1zM445 105h1v1h-1zM484 105h1v1h-1zM331 106h1v1h-1zM372 106h1v1h-1zM466 106h1v1h-1zM479 106h1v1h-1zM482 106h1v1h-1zM333 107h1v1h-1zM340 107h1v1h-1zM347 107h1v1h-1zM354 107h1v1h-1zM432 107h1v1h-1zM471 107h1v1h-1zM481 107h1v1h-1zM346 108h1v1h-1zM348 108h1v1h-1zM458 108h1v1h-1zM464 108h1v1h-1zM466 108h1v1h-1zM482 108h1v1h-1zM330 109h1v1h-1zM347 109h1v1h-1zM353 109h1v1h-1zM372 109h1v1h-1zM472 109h1v1h-1zM475 109h1v1h-1zM480 109h1v1h-1zM487 109h1v1h-1zM328 110h1v1h-1zM341 110h1v1h-1zM351 110h1v1h-1zM354 110h1v1h-1zM376 110h1v1h-1zM459 110h1v1h-1zM461 110h1v1h-1zM377 111h1v1h-1zM382 111h1v1h-1zM463 111h1v1h-1zM489 111h1v1h-1zM350 112h1v1h-1zM455 112h1v1h-1zM479 112h1v1h-1zM375 113h1v1h-1zM432 113h1v1h-1zM466 113h1v1h-1zM468 113h1v1h-1zM485 113h1v1h-1zM336 114h1v1h-1zM373 114h1v1h-1zM375 114h1v1h-1zM435 114h1v1h-1zM438 114h1v1h-1zM465 114h1v1h-1zM472 114h1v1h-1zM466 115h1v1h-1zM351 118h1v1h-1zM470 141h2v1h-2zM339 142h1v1h-1zM467 142h1v1h-1zM360 143h1v1h-1zM444 143h1v1h-1zM353 144h1v1h-1zM366 145h1v1h-1zM472 145h1v1h-1zM474 145h1v1h-1zM471 146h1v1h-1zM336 147h1v1h-1zM354 147h1v1h-1zM447 147h1v1h-1zM360 148h1v1h-1zM447 148h1v1h-1zM335 149h1v1h-1zM361 149h1v1h-1zM445 149h1v1h-1zM449 149h1v1h-1zM472 149h1v1h-1zM359 150h1v1h-1zM439 150h1v1h-1zM443 150h1v1h-1zM474 150h1v1h-1zM357 151h1v1h-1zM445 151h1v1h-1zM450 151h1v1h-1zM451 152h1v1h-1zM455 152h1v1h-1zM364 153h1v1h-1zM438 153h1v1h-1zM453 153h1v1h-1zM456 153h1v1h-1zM461 153h2v1h-2zM360 154h1v1h-1zM441 154h1v1h-1zM445 154h1v1h-1zM359 155h1v1h-1zM434 155h1v1h-1zM459 155h1v1h-1zM455 157h1v1h-1zM456 158h1v1h-1zM463 158h1v1h-1zM456 159h1v1h-1zM474 159h1v1h-1zM484 159h1v1h-1zM370 160h1v1h-1zM477 161h2v1h-2zM488 161h1v1h-1zM376 163h1v1h-1zM482 163h2v1h-2zM490 163h1v1h-1zM459 164h1v1h-1zM344 166h1v1h-1zM470 166h1v1h-1zM344 169h1v1h-1zM344 170h1v1h-1zM478 170h1v1h-1zM342 171h1v1h-1zM343 172h2v1h-2zM347 174h1v1h-1zM440 174h1v1h-1zM462 174h1v1h-1zM335 175h1v1h-1zM443 175h1v1h-1zM445 175h1v1h-1zM485 175h1v1h-1zM341 176h1v1h-1zM343 176h1v1h-1zM444 176h1v1h-1zM466 176h1v1h-1zM354 177h1v1h-1zM356 177h1v1h-1zM441 177h1v1h-1zM447 177h1v1h-1zM462 177h1v1h-1zM343 178h3v1h-3zM349 178h1v1h-1zM443 178h1v1h-1zM336 179h1v1h-1zM342 179h1v1h-1zM357 179h1v1h-1zM437 179h1v1h-1zM441 179h1v1h-1zM463 179h1v1h-1zM337 180h1v1h-1zM358 180h2v1h-2zM361 180h1v1h-1zM444 180h1v1h-1zM468 180h1v1h-1zM343 181h1v1h-1zM361 181h1v1h-1zM436 181h1v1h-1zM441 181h1v1h-1zM479 181h1v1h-1zM485 181h1v1h-1zM335 182h1v1h-1zM436 182h1v1h-1zM443 182h1v1h-1zM449 182h1v1h-1zM487 182h1v1h-1zM354 183h1v1h-1zM362 183h1v1h-1zM445 183h1v1h-1zM335 184h1v1h-1zM375 184h1v1h-1zM442 184h1v1h-1zM487 184h1v1h-1zM355 185h1v1h-1zM439 185h1v1h-1zM448 185h2v1h-2zM456 185h1v1h-1zM363 186h1v1h-1zM448 186h1v1h-1zM451 186h1v1h-1zM471 186h1v1h-1zM336 187h1v1h-1zM367 187h1v1h-1zM379 187h1v1h-1zM440 187h1v1h-1zM450 187h2v1h-2zM459 187h1v1h-1zM479 187h1v1h-1zM441 188h1v1h-1zM443 188h1v1h-1zM446 188h1v1h-1zM451 188h1v1h-1zM362 189h1v1h-1zM380 189h1v1h-1zM453 189h1v1h-1zM455 189h1v1h-1zM465 190h1v1h-1zM377 191h1v1h-1zM381 191h1v1h-1zM449 191h1v1h-1zM476 191h1v1h-1zM469 192h1v1h-1zM475 192h1v1h-1zM376 193h3v1h-3zM442 193h1v1h-1zM450 193h1v1h-1zM459 193h1v1h-1zM469 193h1v1h-1zM476 193h1v1h-1zM433 194h1v1h-1zM449 194h1v1h-1zM453 194h1v1h-1zM465 194h1v1h-1zM469 194h1v1h-1zM428 195h1v1h-1zM446 195h1v1h-1zM467 195h1v1h-1zM376 196h1v1h-1zM432 196h1v1h-1zM462 196h1v1h-1zM473 196h1v1h-1zM345 197h1v1h-1zM446 197h1v1h-1zM351 198h1v1h-1zM441 198h1v1h-1zM450 198h1v1h-1zM470 198h1v1h-1zM337 199h2v1h-2zM343 199h1v1h-1zM448 199h1v1h-1zM337 200h1v1h-1zM344 200h1v1h-1zM347 200h1v1h-1zM366 200h1v1h-1zM452 200h1v1h-1zM465 200h1v1h-1zM335 201h1v1h-1zM342 201h1v1h-1zM334 202h1v1h-1zM345 202h2v1h-2zM339 204h1v1h-1zM368 204h1v1h-1zM338 205h1v1h-1zM340 205h1v1h-1zM343 205h1v1h-1zM345 205h1v1h-1zM442 205h1v1h-1zM348 206h1v1h-1zM352 206h1v1h-1zM339 207h1v1h-1zM349 207h1v1h-1zM369 207h1v1h-1zM332 208h1v1h-1zM334 208h1v1h-1zM342 208h2v1h-2zM340 209h1v1h-1zM344 209h1v1h-1zM347 209h2v1h-2zM344 210h1v1h-1zM368 210h3v1h-3zM368 211h1v1h-1zM370 211h1v1h-1zM344 212h1v1h-1zM368 213h1v1h-1zM347 214h1v1h-1zM366 214h1v1h-1zM369 214h1v1h-1zM340 215h1v1h-1zM453 215h1v1h-1zM347 216h1v1h-1zM364 216h1v1h-1zM366 216h1v1h-1zM451 216h1v1h-1zM454 216h1v1h-1zM349 217h1v1h-1zM373 217h1v1h-1zM453 217h1v1h-1zM366 218h1v1h-1zM368 218h1v1h-1zM450 218h1v1h-1zM369 219h1v1h-1zM453 219h1v1h-1zM487 222h1v1h-1zM456 223h1v1h-1zM486 224h1v1h-1zM449 225h1v1h-1zM457 225h1v1h-1zM483 225h1v1h-1zM478 227h1v1h-1zM492 227h1v1h-1zM438 228h1v1h-1zM475 230h1v1h-1zM374 232h1v1h-1zM435 232h2v1h-2zM347 233h1v1h-1zM476 233h1v1h-1zM363 234h1v1h-1zM472 234h1v1h-1zM334 235h1v1h-1zM368 235h1v1h-1zM480 235h1v1h-1zM338 236h2v1h-2zM472 236h1v1h-1zM474 236h2v1h-2zM478 236h1v1h-1zM483 236h1v1h-1zM440 237h1v1h-1zM336 238h1v1h-1zM341 238h1v1h-1zM375 238h1v1h-1zM332 239h1v1h-1zM374 239h1v1h-1zM477 239h1v1h-1zM332 240h1v1h-1zM335 240h1v1h-1zM344 240h1v1h-1zM472 240h1v1h-1zM474 240h1v1h-1zM338 241h1v1h-1zM339 242h1v1h-1zM341 242h1v1h-1zM355 242h1v1h-1zM372 242h1v1h-1zM481 242h1v1h-1zM343 243h1v1h-1zM474 243h1v1h-1zM476 243h1v1h-1zM478 243h1v1h-1zM484 243h1v1h-1zM336 244h1v1h-1zM338 245h1v1h-1zM341 245h1v1h-1zM345 245h1v1h-1zM353 245h1v1h-1zM340 246h2v1h-2zM358 246h1v1h-1zM431 246h1v1h-1zM354 247h1v1h-1zM352 249h1v1h-1zM359 249h1v1h-1zM351 250h1v1h-1zM356 250h1v1h-1zM462 250h1v1h-1zM454 251h1v1h-1zM360 252h1v1h-1zM362 252h1v1h-1zM433 252h1v1h-1zM435 252h1v1h-1zM436 253h1v1h-1zM459 253h1v1h-1zM462 253h1v1h-1zM358 254h1v1h-1zM434 254h1v1h-1zM437 254h1v1h-1zM455 254h1v1h-1zM465 254h1v1h-1zM470 254h1v1h-1zM353 255h1v1h-1zM359 255h1v1h-1zM430 255h1v1h-1zM433 255h1v1h-1zM437 255h2v1h-2zM459 255h1v1h-1zM465 255h1v1h-1zM357 256h2v1h-2zM437 256h1v1h-1zM453 256h1v1h-1zM456 256h1v1h-1zM349 257h1v1h-1zM457 257h1v1h-1zM461 257h1v1h-1zM477 257h1v1h-1zM354 258h1v1h-1zM357 258h1v1h-1zM369 258h1v1h-1zM464 258h1v1h-1zM350 259h1v1h-1zM371 259h1v1h-1zM462 259h1v1h-1zM479 259h1v1h-1zM430 260h1v1h-1zM455 260h1v1h-1zM460 260h1v1h-1zM465 260h1v1h-1zM475 260h1v1h-1zM460 262h1v1h-1zM483 263h1v1h-1zM483 264h1v1h-1zM374 265h1v1h-1zM464 265h1v1h-1zM347 266h1v1h-1zM459 267h1v1h-1zM483 271h1v1h-1zM486 271h1v1h-1zM335 272h1v1h-1zM482 272h1v1h-1zM338 273h1v1h-1zM483 273h1v1h-1zM486 273h1v1h-1zM487 274h1v1h-1zM329 275h1v1h-1zM484 275h1v1h-1zM338 276h1v1h-1zM480 276h1v1h-1zM476 277h1v1h-1zM337 278h1v1h-1zM339 278h2v1h-2zM481 278h1v1h-1zM483 278h1v1h-1zM485 278h1v1h-1zM488 278h1v1h-1zM332 279h1v1h-1zM336 279h1v1h-1zM480 279h1v1h-1zM372 280h1v1h-1zM333 281h1v1h-1zM339 281h1v1h-1zM478 281h1v1h-1zM481 281h1v1h-1zM355 282h1v1h-1zM474 282h1v1h-1zM478 282h1v1h-1zM335 283h4v1h-4zM341 283h1v1h-1zM351 283h1v1h-1zM355 283h1v1h-1zM481 283h1v1h-1zM337 284h1v1h-1zM347 284h1v1h-1zM366 284h1v1h-1zM337 285h1v1h-1zM344 285h1v1h-1zM346 285h1v1h-1zM365 285h1v1h-1zM367 285h1v1h-1zM345 286h1v1h-1zM372 286h1v1h-1zM461 286h1v1h-1zM465 286h1v1h-1zM468 286h1v1h-1zM484 286h1v1h-1zM341 287h1v1h-1zM349 287h1v1h-1zM353 287h1v1h-1zM458 287h1v1h-1zM466 287h1v1h-1zM346 288h1v1h-1zM464 288h1v1h-1zM466 288h2v1h-2zM348 289h1v1h-1zM465 289h1v1h-1zM349 290h1v1h-1zM471 290h1v1h-1zM440 291h1v1h-1zM442 291h1v1h-1zM344 292h1v1h-1zM346 292h2v1h-2zM431 292h1v1h-1zM344 293h2v1h-2zM347 293h1v1h-1zM349 297h1v1h-1zM445 297h1v1h-1zM346 298h1v1h-1zM348 298h1v1h-1zM351 298h1v1h-1zM460 298h1v1h-1zM462 298h1v1h-1zM470 298h1v1h-1zM345 299h1v1h-1zM428 299h1v1h-1zM470 299h1v1h-1zM348 300h1v1h-1zM375 300h1v1h-1zM464 300h1v1h-1zM347 301h1v1h-1zM373 301h1v1h-1zM470 301h1v1h-1zM351 302h1v1h-1zM349 303h1v1h-1zM372 303h1v1h-1zM378 303h1v1h-1zM463 303h1v1h-1zM471 303h1v1h-1zM474 303h1v1h-1zM339 304h1v1h-1zM345 304h1v1h-1zM351 304h1v1h-1zM376 304h1v1h-1zM456 304h1v1h-1zM460 304h1v1h-1zM470 304h2v1h-2zM343 305h1v1h-1zM349 305h1v1h-1zM463 305h1v1h-1zM459 306h2v1h-2zM463 306h1v1h-1zM462 307h1v1h-1zM465 307h1v1h-1zM476 307h1v1h-1zM478 307h1v1h-1zM470 308h1v1h-1zM472 308h1v1h-1zM373 309h1v1h-1zM461 309h1v1h-1zM480 309h1v1h-1zM486 309h1v1h-1zM475 310h1v1h-1zM372 311h1v1h-1zM443 311h1v1h-1zM481 311h1v1h-1zM368 312h1v1h-1zM376 312h1v1h-1zM441 312h1v1h-1zM448 312h1v1h-1zM370 313h1v1h-1zM382 313h1v1h-1zM439 313h1v1h-1zM447 313h1v1h-1zM471 313h1v1h-1zM476 313h1v1h-1zM447 314h1v1h-1zM476 314h1v1h-1zM484 314h1v1h-1zM486 314h1v1h-1zM440 315h3v1h-3zM482 315h1v1h-1zM484 315h1v1h-1zM374 316h1v1h-1zM472 316h1v1h-1zM474 316h1v1h-1zM484 316h1v1h-1zM368 317h1v1h-1zM442 317h1v1h-1zM447 317h1v1h-1zM471 317h2v1h-2zM477 317h1v1h-1zM379 318h1v1h-1zM440 318h1v1h-1zM450 318h1v1h-1zM473 318h1v1h-1zM485 318h1v1h-1zM349 319h1v1h-1zM451 319h1v1h-1zM470 319h1v1h-1zM480 319h2v1h-2zM377 320h1v1h-1zM473 320h1v1h-1zM478 320h1v1h-1zM480 320h1v1h-1zM364 321h1v1h-1zM448 321h1v1h-1zM478 321h1v1h-1zM371 322h1v1h-1zM437 322h1v1h-1zM452 322h1v1h-1zM352 323h1v1h-1zM439 323h1v1h-1zM449 323h2v1h-2zM381 324h1v1h-1zM435 324h1v1h-1zM445 324h1v1h-1zM348 325h1v1h-1zM350 325h1v1h-1zM436 325h1v1h-1zM439 326h1v1h-1zM459 326h1v1h-1zM344 327h1v1h-1zM440 327h1v1h-1zM445 327h1v1h-1zM344 328h1v1h-1zM348 328h1v1h-1zM442 328h1v1h-1zM446 329h1v1h-1zM342 330h1v1h-1zM380 330h1v1h-1zM461 330h1v1h-1zM347 331h1v1h-1zM377 331h1v1h-1zM456 331h1v1h-1zM482 332h1v1h-1zM380 333h1v1h-1zM383 333h1v1h-1zM340 334h1v1h-1zM342 334h1v1h-1zM344 334h1v1h-1zM380 334h1v1h-1zM487 334h1v1h-1zM345 335h1v1h-1zM375 335h1v1h-1zM374 336h1v1h-1zM336 337h1v1h-1zM349 337h1v1h-1zM374 337h1v1h-1zM378 337h1v1h-1zM387 337h1v1h-1zM479 337h1v1h-1zM377 338h1v1h-1zM461 338h1v1h-1zM344 339h1v1h-1zM370 339h1v1h-1zM372 339h1v1h-1zM379 339h1v1h-1zM461 339h1v1h-1zM371 340h1v1h-1zM339 341h1v1h-1zM478 341h1v1h-1zM481 341h1v1h-1zM348 342h1v1h-1zM372 342h1v1h-1zM388 342h1v1h-1zM477 342h1v1h-1zM475 343h1v1h-1zM483 343h1v1h-1zM480 344h2v1h-2zM433 346h1v1h-1zM428 347h1v1h-1zM479 347h1v1h-1zM482 347h1v1h-1zM486 348h1v1h-1zM362 350h1v1h-1zM437 350h1v1h-1zM364 351h1v1h-1zM474 352h1v1h-1zM331 353h1v1h-1zM451 353h1v1h-1zM335 354h1v1h-1zM341 354h1v1h-1zM336 355h1v1h-1zM360 355h2v1h-2zM451 355h1v1h-1zM361 356h1v1h-1zM450 356h2v1h-2zM456 356h1v1h-1zM330 357h1v1h-1zM342 357h1v1h-1zM360 357h1v1h-1zM364 357h1v1h-1zM458 357h1v1h-1zM460 357h1v1h-1zM357 358h1v1h-1zM340 359h1v1h-1zM357 359h1v1h-1zM452 359h2v1h-2zM463 359h1v1h-1zM341 360h1v1h-1zM371 360h1v1h-1zM458 360h2v1h-2zM346 361h1v1h-1zM358 361h2v1h-2zM362 361h1v1h-1zM452 361h1v1h-1zM457 361h1v1h-1zM460 361h1v1h-1zM373 362h1v1h-1zM345 364h1v1h-1zM359 364h1v1h-1zM368 364h1v1h-1zM373 364h1v1h-1zM459 364h2v1h-2zM362 365h1v1h-1zM372 365h1v1h-1zM453 365h1v1h-1zM457 365h1v1h-1zM463 365h1v1h-1zM471 365h1v1h-1zM366 366h1v1h-1zM471 366h1v1h-1zM364 367h1v1h-1zM366 367h1v1h-1zM370 367h1v1h-1zM471 367h1v1h-1zM366 368h1v1h-1zM360 369h1v1h-1zM378 369h1v1h-1zM444 369h1v1h-1zM471 369h1v1h-1zM366 370h2v1h-2zM443 370h1v1h-1zM359 372h1v1h-1zM369 372h1v1h-1zM371 372h1v1h-1zM438 372h1v1h-1zM446 373h1v1h-1zM367 374h1v1h-1zM447 374h1v1h-1zM465 374h1v1h-1zM441 375h1v1h-1zM444 375h1v1h-1zM440 376h1v1h-1zM479 378h1v1h-1zM350 379h1v1h-1zM350 380h1v1h-1zM373 381h1v1h-1zM348 382h1v1h-1zM349 383h1v1h-1zM374 383h1v1h-1zM372 385h1v1h-1zM382 405h1v1h-1zM337 408h1v1h-1zM351 408h1v1h-1zM436 408h1v1h-1zM328 409h1v1h-1zM348 409h1v1h-1zM460 409h1v1h-1zM431 410h1v1h-1zM454 410h1v1h-1zM476 410h1v1h-1zM483 410h1v1h-1zM333 411h1v1h-1zM349 411h1v1h-1zM371 411h1v1h-1zM440 411h1v1h-1zM454 411h1v1h-1zM456 411h1v1h-1zM461 411h1v1h-1zM475 411h1v1h-1zM481 411h1v1h-1zM335 412h1v1h-1zM438 412h1v1h-1zM458 412h3v1h-3zM463 412h1v1h-1zM484 412h1v1h-1zM435 413h1v1h-1zM441 413h1v1h-1zM459 413h1v1h-1zM463 413h1v1h-1zM486 413h1v1h-1zM430 414h1v1h-1zM432 414h1v1h-1zM443 414h1v1h-1zM468 414h1v1h-1zM470 414h1v1h-1zM479 414h3v1h-3zM486 414h1v1h-1zM363 415h2v1h-2zM435 415h2v1h-2zM465 415h1v1h-1zM484 415h2v1h-2zM334 416h1v1h-1zM460 416h1v1h-1zM436 417h1v1h-1zM439 417h1v1h-1zM459 417h1v1h-1zM461 417h1v1h-1zM481 417h1v1h-1zM465 418h1v1h-1zM476 419h1v1h-1zM480 419h1v1h-1zM469 420h1v1h-1zM484 420h1v1h-1zM480 421h1v1h-1zM483 421h1v1h-1z" fill="#CCCCCC" shape-rendering="crispEdges"/>
<path d="M348 103h1v1h-1zM344 105h1v1h-1zM354 105h1v1h-1zM468 105h1v1h-1zM474 105h1v1h-1zM487 105h1v1h-1zM332 106h1v1h-1zM461 106h1v1h-1zM463 106h2v1h-2zM480 106h1v1h-1zM483 106h1v1h-1zM350 107h1v1h-1zM374 107h1v1h-1zM466 107h1v1h-1zM488 107h1v1h-1zM332 108h1v1h-1zM351 108h1v1h-1zM475 108h1v1h-1zM481 108h1v1h-1zM331 109h1v1h-1zM341 109h1v1h-1zM466 109h1v1h-1zM482 109h2v1h-2zM336 110h1v1h-1zM338 110h1v1h-1zM463 110h1v1h-1zM465 110h1v1h-1zM468 110h2v1h-2zM345 111h1v1h-1zM352 111h1v1h-1zM461 111h1v1h-1zM483 111h1v1h-1zM485 111h1v1h-1zM352 112h1v1h-1zM465 112h1v1h-1zM476 112h1v1h-1zM481 112h1v1h-1zM340 113h1v1h-1zM374 113h1v1h-1zM438 113h1v1h-1zM476 113h1v1h-1zM463 114h1v1h-1zM465 116h1v1h-1zM462 118h1v1h-1zM434 119h1v1h-1zM470 140h1v1h-1zM470 142h1v1h-1zM335 143h1v1h-1zM356 145h1v1h-1zM338 147h1v1h-1zM439 147h1v1h-1zM469 147h1v1h-1zM470 148h1v1h-1zM448 149h1v1h-1zM352 150h2v1h-2zM361 150h1v1h-1zM363 150h1v1h-1zM361 151h1v1h-1zM440 151h1v1h-1zM444 151h1v1h-1zM462 151h1v1h-1zM365 152h1v1h-1zM439 152h1v1h-1zM445 152h1v1h-1zM441 153h2v1h-2zM465 153h1v1h-1zM362 154h1v1h-1zM440 154h1v1h-1zM442 154h1v1h-1zM338 155h1v1h-1zM440 155h1v1h-1zM452 156h1v1h-1zM457 156h1v1h-1zM460 158h1v1h-1zM480 158h1v1h-1zM457 159h1v1h-1zM439 160h1v1h-1zM457 160h1v1h-1zM462 161h1v1h-1zM439 162h1v1h-1zM477 164h1v1h-1zM479 164h1v1h-1zM476 166h1v1h-1zM479 167h1v1h-1zM341 168h1v1h-1zM475 170h1v1h-1zM348 172h1v1h-1zM340 173h1v1h-1zM446 173h1v1h-1zM439 175h1v1h-1zM444 175h1v1h-1zM448 175h1v1h-1zM464 175h1v1h-1zM442 176h1v1h-1zM446 176h1v1h-1zM335 177h1v1h-1zM347 177h1v1h-1zM444 177h2v1h-2zM466 177h1v1h-1zM469 177h1v1h-1zM334 178h1v1h-1zM335 179h1v1h-1zM337 179h1v1h-1zM359 179h1v1h-1zM470 179h1v1h-1zM335 180h1v1h-1zM360 180h1v1h-1zM440 180h3v1h-3zM445 180h1v1h-1zM461 180h1v1h-1zM467 180h1v1h-1zM336 181h1v1h-1zM354 181h1v1h-1zM437 181h1v1h-1zM445 181h2v1h-2zM457 181h1v1h-1zM342 182h1v1h-1zM353 182h1v1h-1zM357 182h1v1h-1zM362 182h1v1h-1zM444 182h1v1h-1zM374 183h1v1h-1zM438 183h2v1h-2zM443 183h1v1h-1zM339 184h1v1h-1zM355 184h1v1h-1zM360 184h2v1h-2zM441 184h1v1h-1zM446 184h1v1h-1zM458 184h1v1h-1zM335 185h1v1h-1zM358 185h1v1h-1zM362 186h1v1h-1zM374 186h1v1h-1zM442 186h1v1h-1zM445 186h1v1h-1zM447 186h1v1h-1zM334 187h1v1h-1zM355 187h2v1h-2zM358 187h2v1h-2zM363 187h1v1h-1zM445 187h2v1h-2zM335 188h1v1h-1zM356 188h1v1h-1zM364 188h1v1h-1zM378 188h1v1h-1zM449 188h2v1h-2zM454 188h1v1h-1zM445 189h1v1h-1zM450 189h1v1h-1zM459 189h1v1h-1zM385 190h1v1h-1zM448 190h1v1h-1zM479 190h1v1h-1zM437 191h1v1h-1zM448 191h1v1h-1zM454 191h1v1h-1zM444 192h1v1h-1zM447 192h1v1h-1zM457 192h1v1h-1zM470 192h2v1h-2zM440 193h1v1h-1zM446 193h1v1h-1zM452 193h1v1h-1zM467 193h1v1h-1zM472 193h1v1h-1zM450 194h1v1h-1zM472 194h1v1h-1zM482 194h1v1h-1zM438 195h1v1h-1zM470 195h1v1h-1zM381 196h1v1h-1zM446 196h1v1h-1zM450 196h1v1h-1zM453 196h1v1h-1zM474 196h1v1h-1zM477 196h1v1h-1zM468 197h1v1h-1zM440 198h1v1h-1zM449 198h1v1h-1zM467 198h1v1h-1zM472 198h1v1h-1zM334 199h1v1h-1zM341 199h1v1h-1zM450 199h1v1h-1zM472 199h1v1h-1zM339 200h1v1h-1zM342 200h1v1h-1zM339 201h1v1h-1zM432 201h1v1h-1zM342 202h1v1h-1zM450 202h1v1h-1zM340 203h2v1h-2zM371 203h1v1h-1zM466 203h1v1h-1zM341 204h1v1h-1zM372 204h1v1h-1zM339 205h1v1h-1zM342 205h1v1h-1zM333 206h1v1h-1zM343 206h2v1h-2zM349 206h1v1h-1zM364 206h2v1h-2zM346 207h1v1h-1zM348 207h1v1h-1zM350 207h1v1h-1zM346 208h1v1h-1zM342 210h1v1h-1zM346 210h1v1h-1zM376 210h1v1h-1zM351 211h1v1h-1zM369 211h1v1h-1zM378 211h1v1h-1zM343 212h1v1h-1zM349 212h1v1h-1zM452 212h1v1h-1zM341 213h1v1h-1zM343 213h1v1h-1zM349 213h1v1h-1zM370 213h1v1h-1zM347 215h1v1h-1zM373 215h1v1h-1zM345 216h1v1h-1zM355 216h1v1h-1zM452 218h1v1h-1zM455 220h1v1h-1zM457 220h1v1h-1zM454 221h1v1h-1zM484 223h1v1h-1zM452 224h1v1h-1zM481 224h1v1h-1zM483 224h1v1h-1zM483 226h1v1h-1zM476 228h1v1h-1zM438 229h1v1h-1zM460 229h1v1h-1zM481 229h1v1h-1zM441 231h1v1h-1zM471 232h1v1h-1zM366 233h1v1h-1zM432 234h1v1h-1zM471 234h1v1h-1zM338 235h1v1h-1zM373 235h1v1h-1zM477 235h1v1h-1zM341 236h1v1h-1zM375 236h1v1h-1zM473 236h1v1h-1zM339 237h1v1h-1zM430 237h1v1h-1zM472 237h1v1h-1zM480 237h1v1h-1zM475 238h1v1h-1zM480 238h1v1h-1zM333 239h2v1h-2zM343 240h1v1h-1zM479 240h1v1h-1zM337 241h1v1h-1zM341 241h2v1h-2zM476 241h1v1h-1zM333 242h2v1h-2zM477 242h1v1h-1zM344 244h1v1h-1zM475 244h1v1h-1zM339 246h1v1h-1zM349 247h1v1h-1zM355 247h1v1h-1zM340 248h1v1h-1zM349 248h1v1h-1zM358 249h1v1h-1zM354 250h1v1h-1zM357 250h1v1h-1zM464 250h1v1h-1zM352 251h1v1h-1zM362 251h1v1h-1zM427 251h1v1h-1zM354 252h1v1h-1zM461 252h2v1h-2zM345 253h1v1h-1zM356 253h2v1h-2zM359 253h2v1h-2zM352 254h1v1h-1zM355 254h1v1h-1zM360 254h1v1h-1zM433 254h1v1h-1zM466 254h1v1h-1zM436 255h1v1h-1zM440 255h1v1h-1zM460 255h1v1h-1zM440 257h1v1h-1zM443 257h1v1h-1zM460 257h1v1h-1zM449 258h1v1h-1zM461 258h1v1h-1zM356 259h1v1h-1zM454 259h1v1h-1zM471 259h1v1h-1zM367 260h1v1h-1zM435 260h1v1h-1zM439 260h1v1h-1zM454 260h1v1h-1zM462 260h1v1h-1zM368 262h1v1h-1zM472 262h1v1h-1zM346 263h1v1h-1zM460 269h1v1h-1zM338 271h1v1h-1zM482 271h1v1h-1zM480 272h1v1h-1zM480 273h1v1h-1zM334 274h2v1h-2zM479 274h1v1h-1zM340 275h1v1h-1zM340 277h1v1h-1zM451 277h1v1h-1zM332 278h1v1h-1zM338 278h1v1h-1zM335 279h1v1h-1zM451 279h1v1h-1zM336 280h1v1h-1zM481 280h1v1h-1zM337 281h1v1h-1zM454 281h1v1h-1zM482 281h1v1h-1zM333 282h1v1h-1zM337 282h2v1h-2zM353 282h1v1h-1zM364 282h1v1h-1zM371 282h1v1h-1zM477 282h1v1h-1zM485 283h1v1h-1zM489 283h1v1h-1zM465 284h1v1h-1zM472 284h1v1h-1zM353 285h1v1h-1zM346 286h1v1h-1zM352 286h1v1h-1zM466 286h1v1h-1zM485 286h1v1h-1zM346 287h1v1h-1zM438 288h1v1h-1zM351 289h1v1h-1zM459 289h1v1h-1zM470 289h1v1h-1zM343 291h1v1h-1zM350 291h1v1h-1zM350 292h1v1h-1zM436 293h1v1h-1zM431 295h1v1h-1zM437 296h1v1h-1zM345 297h1v1h-1zM347 297h1v1h-1zM350 297h1v1h-1zM463 297h1v1h-1zM469 298h1v1h-1zM471 298h1v1h-1zM349 299h1v1h-1zM462 299h1v1h-1zM346 300h1v1h-1zM348 301h1v1h-1zM352 301h1v1h-1zM344 302h1v1h-1zM347 302h1v1h-1zM467 303h1v1h-1zM478 303h1v1h-1zM342 304h1v1h-1zM467 305h1v1h-1zM472 305h1v1h-1zM479 305h1v1h-1zM347 306h1v1h-1zM352 306h1v1h-1zM461 306h2v1h-2zM466 306h1v1h-1zM469 306h1v1h-1zM479 306h1v1h-1zM468 307h1v1h-1zM474 307h2v1h-2zM378 308h1v1h-1zM471 308h1v1h-1zM479 308h1v1h-1zM485 308h1v1h-1zM370 309h1v1h-1zM376 309h1v1h-1zM470 309h1v1h-1zM474 309h3v1h-3zM481 309h1v1h-1zM373 310h1v1h-1zM468 310h2v1h-2zM479 310h1v1h-1zM487 310h1v1h-1zM442 311h1v1h-1zM474 311h1v1h-1zM370 312h1v1h-1zM442 312h1v1h-1zM480 312h1v1h-1zM445 313h1v1h-1zM474 313h1v1h-1zM480 313h1v1h-1zM486 313h1v1h-1zM366 314h1v1h-1zM377 314h1v1h-1zM446 314h1v1h-1zM475 314h1v1h-1zM372 315h1v1h-1zM472 315h1v1h-1zM479 315h1v1h-1zM446 316h1v1h-1zM450 316h1v1h-1zM441 317h1v1h-1zM341 318h1v1h-1zM476 318h2v1h-2zM480 318h1v1h-1zM380 319h1v1h-1zM437 319h1v1h-1zM445 319h1v1h-1zM472 319h1v1h-1zM474 319h1v1h-1zM477 319h1v1h-1zM481 320h1v1h-1zM440 321h1v1h-1zM341 322h1v1h-1zM446 322h1v1h-1zM479 322h1v1h-1zM441 323h1v1h-1zM444 323h1v1h-1zM447 323h2v1h-2zM444 324h1v1h-1zM449 325h1v1h-1zM444 326h2v1h-2zM341 327h2v1h-2zM443 327h2v1h-2zM345 328h2v1h-2zM343 329h1v1h-1zM440 329h1v1h-1zM347 330h2v1h-2zM477 330h1v1h-1zM344 331h1v1h-1zM337 332h1v1h-1zM378 332h1v1h-1zM461 332h1v1h-1zM344 333h1v1h-1zM346 333h1v1h-1zM348 333h1v1h-1zM350 333h1v1h-1zM348 334h2v1h-2zM378 335h1v1h-1zM382 335h1v1h-1zM378 336h1v1h-1zM348 337h1v1h-1zM460 337h1v1h-1zM475 337h1v1h-1zM478 337h1v1h-1zM343 338h1v1h-1zM372 338h1v1h-1zM474 338h1v1h-1zM478 338h1v1h-1zM374 339h1v1h-1zM389 339h1v1h-1zM464 339h1v1h-1zM474 339h2v1h-2zM482 339h1v1h-1zM347 340h1v1h-1zM474 340h1v1h-1zM476 340h1v1h-1zM482 340h1v1h-1zM375 341h1v1h-1zM434 341h1v1h-1zM474 341h2v1h-2zM477 341h1v1h-1zM484 341h1v1h-1zM486 341h1v1h-1zM476 342h1v1h-1zM433 343h1v1h-1zM476 343h1v1h-1zM378 344h1v1h-1zM380 344h1v1h-1zM477 344h1v1h-1zM475 347h1v1h-1zM482 348h1v1h-1zM436 349h1v1h-1zM433 351h1v1h-1zM453 352h1v1h-1zM340 353h1v1h-1zM338 354h1v1h-1zM452 354h1v1h-1zM450 355h1v1h-1zM454 355h1v1h-1zM341 356h1v1h-1zM359 356h1v1h-1zM362 357h2v1h-2zM459 357h1v1h-1zM358 358h1v1h-1zM453 358h1v1h-1zM457 358h1v1h-1zM366 359h1v1h-1zM455 359h1v1h-1zM457 359h1v1h-1zM460 359h1v1h-1zM357 360h1v1h-1zM364 360h2v1h-2zM451 360h1v1h-1zM455 360h1v1h-1zM472 360h1v1h-1zM342 361h1v1h-1zM364 361h1v1h-1zM366 361h3v1h-3zM361 362h1v1h-1zM367 362h1v1h-1zM457 362h1v1h-1zM462 362h1v1h-1zM363 363h1v1h-1zM453 363h1v1h-1zM355 364h1v1h-1zM361 364h1v1h-1zM364 364h1v1h-1zM367 364h1v1h-1zM371 364h1v1h-1zM456 364h1v1h-1zM370 365h1v1h-1zM362 366h1v1h-1zM365 366h1v1h-1zM459 366h1v1h-1zM360 367h1v1h-1zM443 367h1v1h-1zM475 367h1v1h-1zM444 368h1v1h-1zM448 369h1v1h-1zM470 369h1v1h-1zM365 371h1v1h-1zM377 371h1v1h-1zM442 371h1v1h-1zM450 371h1v1h-1zM366 372h3v1h-3zM441 372h1v1h-1zM464 372h1v1h-1zM366 374h1v1h-1zM443 375h1v1h-1zM355 378h1v1h-1zM373 380h1v1h-1zM456 405h1v1h-1zM346 408h1v1h-1zM377 408h1v1h-1zM354 409h1v1h-1zM384 409h1v1h-1zM464 409h1v1h-1zM350 410h2v1h-2zM360 410h1v1h-1zM461 410h2v1h-2zM474 410h1v1h-1zM480 410h1v1h-1zM373 411h1v1h-1zM375 411h1v1h-1zM434 411h1v1h-1zM437 411h1v1h-1zM458 411h2v1h-2zM364 412h1v1h-1zM330 413h1v1h-1zM351 413h1v1h-1zM379 413h1v1h-1zM436 413h1v1h-1zM463 414h2v1h-2zM469 414h1v1h-1zM471 414h1v1h-1zM482 414h1v1h-1zM484 414h1v1h-1zM348 416h1v1h-1zM368 416h1v1h-1zM480 416h1v1h-1zM458 417h1v1h-1zM478 417h1v1h-1zM463 418h1v1h-1zM481 418h1v1h-1zM377 419h1v1h-1zM459 419h1v1h-1zM461 419h1v1h-1zM480 420h1v1h-1zM488 420h1v1h-1zM461 421h1v1h-1z" fill="#E6E6E6" shape-rendering="crispEdges"/>
<path d="M467 104h1v1h-1zM464 105h4v1h-4zM462 106h1v1h-1zM465 106h1v1h-1zM467 106h3v1h-3zM471 106h1v1h-1zM484 106h1v1h-1zM462 107h2v1h-2zM465 107h1v1h-1zM467 107h3v1h-3zM329 108h1v1h-1zM349 108h1v1h-1zM372 108h1v1h-1zM462 108h2v1h-2zM467 108h2v1h-2zM470 108h1v1h-1zM479 108h1v1h-1zM483 108h1v1h-1zM332 109h1v1h-1zM373 109h1v1h-1zM460 109h1v1h-1zM463 109h1v1h-1zM465 109h1v1h-1zM467 109h2v1h-2zM349 110h2v1h-2zM352 110h1v1h-1zM371 110h2v1h-2zM374 110h1v1h-1zM462 110h1v1h-1zM464 110h1v1h-1zM467 110h1v1h-1zM473 110h1v1h-1zM479 110h1v1h-1zM487 110h1v1h-1zM329 111h1v1h-1zM336 111h1v1h-1zM351 111h1v1h-1zM459 111h2v1h-2zM462 111h1v1h-1zM465 111h4v1h-4zM480 111h2v1h-2zM486 111h1v1h-1zM333 112h1v1h-1zM373 112h2v1h-2zM460 112h5v1h-5zM466 112h2v1h-2zM337 113h1v1h-1zM461 113h2v1h-2zM464 113h2v1h-2zM334 114h1v1h-1zM372 114h1v1h-1zM469 115h1v1h-1zM465 118h1v1h-1zM469 140h1v1h-1zM474 141h1v1h-1zM473 143h1v1h-1zM471 145h1v1h-1zM361 146h1v1h-1zM365 146h1v1h-1zM472 146h1v1h-1zM475 146h1v1h-1zM478 146h1v1h-1zM356 148h2v1h-2zM445 148h1v1h-1zM474 148h1v1h-1zM443 149h1v1h-1zM364 150h1v1h-1zM441 150h1v1h-1zM452 150h1v1h-1zM475 150h1v1h-1zM362 151h1v1h-1zM441 151h1v1h-1zM354 152h1v1h-1zM356 152h1v1h-1zM360 152h1v1h-1zM443 152h1v1h-1zM446 152h1v1h-1zM448 152h1v1h-1zM459 152h1v1h-1zM461 152h1v1h-1zM439 153h1v1h-1zM437 154h1v1h-1zM456 154h1v1h-1zM458 154h1v1h-1zM439 155h1v1h-1zM461 155h1v1h-1zM461 160h1v1h-1zM457 161h1v1h-1zM479 162h1v1h-1zM477 165h1v1h-1zM348 171h1v1h-1zM444 172h1v1h-1zM470 173h1v1h-1zM339 174h2v1h-2zM445 174h1v1h-1zM471 174h1v1h-1zM446 175h1v1h-1zM344 176h1v1h-1zM347 176h1v1h-1zM468 176h1v1h-1zM440 177h1v1h-1zM433 178h1v1h-1zM439 178h1v1h-1zM441 178h2v1h-2zM334 179h1v1h-1zM338 179h1v1h-1zM360 179h1v1h-1zM438 179h3v1h-3zM443 179h2v1h-2zM446 179h1v1h-1zM353 180h1v1h-1zM437 180h1v1h-1zM439 180h1v1h-1zM443 180h1v1h-1zM446 180h1v1h-1zM466 180h1v1h-1zM469 180h1v1h-1zM334 181h1v1h-1zM358 181h2v1h-2zM438 181h1v1h-1zM440 181h1v1h-1zM442 181h3v1h-3zM333 182h1v1h-1zM338 182h1v1h-1zM352 182h1v1h-1zM355 182h1v1h-1zM360 182h2v1h-2zM437 182h1v1h-1zM439 182h1v1h-1zM441 182h1v1h-1zM446 182h1v1h-1zM336 183h1v1h-1zM338 183h1v1h-1zM359 183h3v1h-3zM440 183h3v1h-3zM444 183h1v1h-1zM449 183h1v1h-1zM353 184h1v1h-1zM357 184h1v1h-1zM359 184h1v1h-1zM362 184h1v1h-1zM438 184h1v1h-1zM445 184h1v1h-1zM449 184h1v1h-1zM357 185h1v1h-1zM359 185h1v1h-1zM361 185h2v1h-2zM364 185h1v1h-1zM440 185h3v1h-3zM444 185h1v1h-1zM447 185h1v1h-1zM359 186h1v1h-1zM361 186h1v1h-1zM364 186h1v1h-1zM443 186h2v1h-2zM449 186h1v1h-1zM360 187h1v1h-1zM362 187h1v1h-1zM441 187h1v1h-1zM447 187h3v1h-3zM358 188h2v1h-2zM361 188h1v1h-1zM374 188h1v1h-1zM445 188h1v1h-1zM448 188h1v1h-1zM460 188h1v1h-1zM359 189h3v1h-3zM363 189h1v1h-1zM378 189h1v1h-1zM447 189h2v1h-2zM451 189h1v1h-1zM478 189h1v1h-1zM360 190h1v1h-1zM375 190h2v1h-2zM378 190h1v1h-1zM446 190h1v1h-1zM450 190h1v1h-1zM446 191h2v1h-2zM450 191h3v1h-3zM470 191h1v1h-1zM475 191h1v1h-1zM376 192h1v1h-1zM445 192h1v1h-1zM448 192h2v1h-2zM451 192h1v1h-1zM445 193h1v1h-1zM448 193h2v1h-2zM451 193h1v1h-1zM466 193h1v1h-1zM471 193h1v1h-1zM473 193h3v1h-3zM446 194h1v1h-1zM451 194h2v1h-2zM467 194h2v1h-2zM470 194h2v1h-2zM473 194h4v1h-4zM449 195h4v1h-4zM466 195h1v1h-1zM469 195h1v1h-1zM471 195h3v1h-3zM476 195h1v1h-1zM449 196h1v1h-1zM469 196h2v1h-2zM472 196h1v1h-1zM476 196h1v1h-1zM447 197h1v1h-1zM449 197h2v1h-2zM469 197h2v1h-2zM474 197h4v1h-4zM451 198h2v1h-2zM468 198h1v1h-1zM471 198h1v1h-1zM475 198h2v1h-2zM449 199h1v1h-1zM451 199h1v1h-1zM473 199h1v1h-1zM476 199h1v1h-1zM336 200h1v1h-1zM341 200h1v1h-1zM343 200h1v1h-1zM337 201h2v1h-2zM340 201h1v1h-1zM345 201h1v1h-1zM337 202h1v1h-1zM339 202h3v1h-3zM347 202h1v1h-1zM338 203h2v1h-2zM344 203h1v1h-1zM346 203h1v1h-1zM333 204h1v1h-1zM337 204h2v1h-2zM340 204h1v1h-1zM343 204h1v1h-1zM345 204h2v1h-2zM335 205h1v1h-1zM341 205h1v1h-1zM344 205h1v1h-1zM346 205h3v1h-3zM340 206h3v1h-3zM345 206h1v1h-1zM341 207h2v1h-2zM345 207h1v1h-1zM347 207h1v1h-1zM344 208h2v1h-2zM345 209h1v1h-1zM374 209h1v1h-1zM348 210h1v1h-1zM350 210h1v1h-1zM345 211h1v1h-1zM348 211h3v1h-3zM367 211h1v1h-1zM340 212h1v1h-1zM342 212h1v1h-1zM346 212h1v1h-1zM373 213h1v1h-1zM341 214h1v1h-1zM348 214h1v1h-1zM366 215h1v1h-1zM348 216h1v1h-1zM369 216h1v1h-1zM368 217h1v1h-1zM453 218h1v1h-1zM457 219h1v1h-1zM456 220h1v1h-1zM487 224h1v1h-1zM438 225h1v1h-1zM452 225h1v1h-1zM478 228h1v1h-1zM485 228h1v1h-1zM480 229h1v1h-1zM483 229h1v1h-1zM485 230h1v1h-1zM482 231h1v1h-1zM480 232h1v1h-1zM475 233h1v1h-1zM375 234h1v1h-1zM475 234h1v1h-1zM477 234h1v1h-1zM479 234h1v1h-1zM336 235h1v1h-1zM472 235h4v1h-4zM478 235h1v1h-1zM334 236h1v1h-1zM340 236h1v1h-1zM336 237h1v1h-1zM341 237h1v1h-1zM343 237h1v1h-1zM470 237h1v1h-1zM476 237h1v1h-1zM479 237h1v1h-1zM332 238h1v1h-1zM337 238h1v1h-1zM340 238h1v1h-1zM343 238h1v1h-1zM470 238h4v1h-4zM476 238h1v1h-1zM479 238h1v1h-1zM481 238h1v1h-1zM339 239h1v1h-1zM469 239h1v1h-1zM471 239h1v1h-1zM474 239h1v1h-1zM478 239h1v1h-1zM482 239h1v1h-1zM334 240h1v1h-1zM337 240h2v1h-2zM342 240h1v1h-1zM470 240h1v1h-1zM476 240h1v1h-1zM480 240h1v1h-1zM334 241h1v1h-1zM471 241h2v1h-2zM475 241h1v1h-1zM477 241h2v1h-2zM335 242h2v1h-2zM475 242h1v1h-1zM334 243h1v1h-1zM337 243h3v1h-3zM342 243h1v1h-1zM339 244h1v1h-1zM337 245h1v1h-1zM356 247h1v1h-1zM353 248h1v1h-1zM357 248h3v1h-3zM353 249h2v1h-2zM357 249h1v1h-1zM360 249h1v1h-1zM362 249h1v1h-1zM353 250h1v1h-1zM355 250h1v1h-1zM358 250h1v1h-1zM360 250h1v1h-1zM351 251h1v1h-1zM353 251h1v1h-1zM357 251h2v1h-2zM363 251h1v1h-1zM462 251h4v1h-4zM352 252h2v1h-2zM356 252h2v1h-2zM361 252h1v1h-1zM437 252h1v1h-1zM463 252h2v1h-2zM351 253h1v1h-1zM353 253h2v1h-2zM358 253h1v1h-1zM361 253h2v1h-2zM455 253h1v1h-1zM461 253h1v1h-1zM464 253h2v1h-2zM351 254h1v1h-1zM353 254h2v1h-2zM356 254h2v1h-2zM361 254h1v1h-1zM431 254h1v1h-1zM438 254h1v1h-1zM460 254h3v1h-3zM464 254h1v1h-1zM354 255h3v1h-3zM360 255h1v1h-1zM461 255h2v1h-2zM353 256h3v1h-3zM438 256h1v1h-1zM458 256h2v1h-2zM461 256h1v1h-1zM464 256h1v1h-1zM432 257h1v1h-1zM459 257h1v1h-1zM462 257h3v1h-3zM350 258h1v1h-1zM454 258h1v1h-1zM457 258h2v1h-2zM460 258h1v1h-1zM437 259h1v1h-1zM440 259h1v1h-1zM458 259h1v1h-1zM460 259h1v1h-1zM463 259h1v1h-1zM459 260h1v1h-1zM461 260h1v1h-1zM349 261h1v1h-1zM458 261h4v1h-4zM347 263h2v1h-2zM373 265h1v1h-1zM446 270h1v1h-1zM337 272h2v1h-2zM335 273h2v1h-2zM481 273h1v1h-1zM339 274h1v1h-1zM334 275h1v1h-1zM482 275h1v1h-1zM333 276h5v1h-5zM341 276h1v1h-1zM335 277h3v1h-3zM339 277h1v1h-1zM482 277h1v1h-1zM333 278h1v1h-1zM336 278h1v1h-1zM448 278h1v1h-1zM337 279h3v1h-3zM484 279h1v1h-1zM333 280h3v1h-3zM337 280h3v1h-3zM354 280h1v1h-1zM484 280h1v1h-1zM479 281h1v1h-1zM335 282h1v1h-1zM469 282h1v1h-1zM333 283h1v1h-1zM348 283h1v1h-1zM465 283h1v1h-1zM335 284h2v1h-2zM348 284h2v1h-2zM351 284h1v1h-1zM468 284h1v1h-1zM347 285h2v1h-2zM350 285h1v1h-1zM352 285h1v1h-1zM460 285h2v1h-2zM349 286h1v1h-1zM353 286h3v1h-3zM369 286h1v1h-1zM463 286h1v1h-1zM467 286h1v1h-1zM472 286h1v1h-1zM345 287h1v1h-1zM348 287h1v1h-1zM350 287h1v1h-1zM352 287h1v1h-1zM354 287h1v1h-1zM369 287h1v1h-1zM343 288h1v1h-1zM347 288h1v1h-1zM350 288h1v1h-1zM352 288h2v1h-2zM342 289h1v1h-1zM344 289h1v1h-1zM347 289h1v1h-1zM349 289h1v1h-1zM353 289h2v1h-2zM468 289h1v1h-1zM343 290h1v1h-1zM347 290h1v1h-1zM350 290h4v1h-4zM344 291h4v1h-4zM352 291h1v1h-1zM437 291h1v1h-1zM462 291h1v1h-1zM343 292h1v1h-1zM345 292h1v1h-1zM348 292h1v1h-1zM435 295h1v1h-1zM465 295h1v1h-1zM468 295h1v1h-1zM349 296h3v1h-3zM464 296h2v1h-2zM351 297h1v1h-1zM462 297h1v1h-1zM464 297h1v1h-1zM347 298h1v1h-1zM350 298h1v1h-1zM354 298h1v1h-1zM461 298h1v1h-1zM464 298h2v1h-2zM467 298h1v1h-1zM346 299h1v1h-1zM348 299h1v1h-1zM351 299h1v1h-1zM460 299h2v1h-2zM463 299h4v1h-4zM349 300h2v1h-2zM355 300h1v1h-1zM459 300h1v1h-1zM465 300h4v1h-4zM344 301h3v1h-3zM349 301h1v1h-1zM353 301h1v1h-1zM461 301h1v1h-1zM464 301h1v1h-1zM467 301h2v1h-2zM346 302h1v1h-1zM348 302h1v1h-1zM373 302h1v1h-1zM459 302h1v1h-1zM461 302h4v1h-4zM466 302h1v1h-1zM343 303h1v1h-1zM346 303h1v1h-1zM350 303h2v1h-2zM375 303h1v1h-1zM377 303h1v1h-1zM459 303h2v1h-2zM462 303h1v1h-1zM466 303h1v1h-1zM343 304h1v1h-1zM350 304h1v1h-1zM354 304h1v1h-1zM463 304h1v1h-1zM466 304h1v1h-1zM472 304h4v1h-4zM485 304h1v1h-1zM344 305h1v1h-1zM347 305h1v1h-1zM461 305h1v1h-1zM466 305h1v1h-1zM470 305h2v1h-2zM473 305h1v1h-1zM477 305h2v1h-2zM345 306h1v1h-1zM465 306h1v1h-1zM470 306h2v1h-2zM475 306h3v1h-3zM463 307h1v1h-1zM471 307h1v1h-1zM473 307h1v1h-1zM480 307h1v1h-1zM377 308h1v1h-1zM473 308h1v1h-1zM477 308h2v1h-2zM481 308h1v1h-1zM374 309h2v1h-2zM473 309h1v1h-1zM477 309h1v1h-1zM472 310h3v1h-3zM477 310h2v1h-2zM480 310h3v1h-3zM484 310h1v1h-1zM445 311h1v1h-1zM475 311h1v1h-1zM477 311h1v1h-1zM480 311h1v1h-1zM474 312h1v1h-1zM478 312h2v1h-2zM483 312h1v1h-1zM440 313h2v1h-2zM443 313h1v1h-1zM446 313h1v1h-1zM478 313h1v1h-1zM373 314h1v1h-1zM440 314h2v1h-2zM468 314h1v1h-1zM481 314h2v1h-2zM487 314h1v1h-1zM439 315h1v1h-1zM443 315h4v1h-4zM474 315h1v1h-1zM477 315h2v1h-2zM481 315h1v1h-1zM368 316h1v1h-1zM440 316h6v1h-6zM479 316h1v1h-1zM481 316h1v1h-1zM439 317h1v1h-1zM443 317h4v1h-4zM451 317h1v1h-1zM474 317h2v1h-2zM478 317h1v1h-1zM480 317h1v1h-1zM482 317h2v1h-2zM439 318h1v1h-1zM441 318h7v1h-7zM474 318h2v1h-2zM478 318h1v1h-1zM438 319h2v1h-2zM441 319h4v1h-4zM446 319h2v1h-2zM440 320h9v1h-9zM450 320h1v1h-1zM479 320h1v1h-1zM438 321h1v1h-1zM441 321h7v1h-7zM440 322h1v1h-1zM442 322h4v1h-4zM447 322h2v1h-2zM440 323h1v1h-1zM442 323h2v1h-2zM445 323h2v1h-2zM440 324h1v1h-1zM442 324h2v1h-2zM446 324h2v1h-2zM441 325h3v1h-3zM445 325h2v1h-2zM343 326h1v1h-1zM442 326h2v1h-2zM446 326h3v1h-3zM446 327h1v1h-1zM480 327h1v1h-1zM347 328h1v1h-1zM374 328h1v1h-1zM444 328h2v1h-2zM344 329h1v1h-1zM347 329h1v1h-1zM460 329h1v1h-1zM339 330h1v1h-1zM343 330h1v1h-1zM379 330h1v1h-1zM343 331h1v1h-1zM345 331h2v1h-2zM460 331h1v1h-1zM342 332h1v1h-1zM344 332h2v1h-2zM347 332h1v1h-1zM380 332h1v1h-1zM342 333h2v1h-2zM349 333h1v1h-1zM381 333h1v1h-1zM460 333h1v1h-1zM341 334h1v1h-1zM350 334h1v1h-1zM379 334h1v1h-1zM383 334h1v1h-1zM343 335h1v1h-1zM346 335h3v1h-3zM340 336h1v1h-1zM343 336h3v1h-3zM347 336h2v1h-2zM350 336h1v1h-1zM371 336h2v1h-2zM382 336h1v1h-1zM387 336h1v1h-1zM343 337h2v1h-2zM347 337h1v1h-1zM350 337h1v1h-1zM372 337h1v1h-1zM379 337h1v1h-1zM480 337h1v1h-1zM344 338h6v1h-6zM371 338h1v1h-1zM382 338h1v1h-1zM475 338h3v1h-3zM479 338h2v1h-2zM482 338h1v1h-1zM345 339h1v1h-1zM348 339h1v1h-1zM373 339h1v1h-1zM375 339h1v1h-1zM380 339h2v1h-2zM476 339h3v1h-3zM481 339h1v1h-1zM348 340h1v1h-1zM375 340h1v1h-1zM379 340h1v1h-1zM381 340h1v1h-1zM477 340h1v1h-1zM480 340h1v1h-1zM483 340h1v1h-1zM346 341h1v1h-1zM348 341h1v1h-1zM479 341h2v1h-2zM482 341h1v1h-1zM485 341h1v1h-1zM475 342h1v1h-1zM478 342h3v1h-3zM484 342h1v1h-1zM479 343h1v1h-1zM481 343h2v1h-2zM484 343h1v1h-1zM478 351h1v1h-1zM453 353h2v1h-2zM451 354h1v1h-1zM454 354h3v1h-3zM453 355h1v1h-1zM456 355h3v1h-3zM335 356h1v1h-1zM357 356h1v1h-1zM360 356h1v1h-1zM452 356h3v1h-3zM457 356h1v1h-1zM339 357h1v1h-1zM357 357h1v1h-1zM361 357h1v1h-1zM453 357h1v1h-1zM457 357h1v1h-1zM340 358h1v1h-1zM362 358h2v1h-2zM452 358h1v1h-1zM454 358h3v1h-3zM458 358h3v1h-3zM337 359h1v1h-1zM358 359h7v1h-7zM451 359h1v1h-1zM459 359h1v1h-1zM339 360h1v1h-1zM360 360h4v1h-4zM454 360h1v1h-1zM456 360h2v1h-2zM462 360h1v1h-1zM360 361h2v1h-2zM453 361h1v1h-1zM458 361h1v1h-1zM462 361h2v1h-2zM356 362h1v1h-1zM358 362h2v1h-2zM362 362h3v1h-3zM453 362h3v1h-3zM459 362h2v1h-2zM362 363h1v1h-1zM364 363h2v1h-2zM367 363h1v1h-1zM455 363h2v1h-2zM458 363h2v1h-2zM362 364h1v1h-1zM365 364h2v1h-2zM454 364h2v1h-2zM458 364h1v1h-1zM461 364h2v1h-2zM363 365h2v1h-2zM366 365h3v1h-3zM455 365h1v1h-1zM458 365h1v1h-1zM356 366h1v1h-1zM363 366h2v1h-2zM461 366h1v1h-1zM365 367h1v1h-1zM445 367h2v1h-2zM363 368h2v1h-2zM370 368h1v1h-1zM446 368h3v1h-3zM365 369h2v1h-2zM369 369h3v1h-3zM368 370h1v1h-1zM366 371h1v1h-1zM369 371h1v1h-1zM439 372h1v1h-1zM367 375h1v1h-1zM437 375h1v1h-1zM478 375h1v1h-1zM434 407h1v1h-1zM433 408h2v1h-2zM437 408h1v1h-1zM460 408h2v1h-2zM463 408h2v1h-2zM437 410h1v1h-1zM463 410h1v1h-1zM462 411h1v1h-1zM480 411h1v1h-1zM431 412h1v1h-1zM437 412h1v1h-1zM464 412h1v1h-1zM433 413h1v1h-1zM465 413h2v1h-2zM468 413h1v1h-1zM470 413h1v1h-1zM459 414h2v1h-2zM467 414h1v1h-1zM460 415h2v1h-2zM463 415h2v1h-2zM467 415h1v1h-1zM479 415h1v1h-1zM375 416h1v1h-1zM458 416h2v1h-2zM462 416h3v1h-3zM470 416h1v1h-1zM477 417h1v1h-1zM458 418h2v1h-2zM462 418h1v1h-1zM458 419h1v1h-1zM462 419h1v1h-1zM466 419h1v1h-1zM461 420h1v1h-1zM468 421h1v1h-1z" fill="#FFFFFF" shape-rendering="crispEdges"/></g>
<rect x="325" y="425" width="171" height="17" fill="#880015"/>
<rect x="144.5" y="94.1" width="590" height="2.8" fill="#000"/>
<rect x="323" y="423.9" width="261" height="2.05" fill="#000"/>
<rect x="583" y="424.2" width="158" height="2.8" fill="#000"/>
<rect x="323" y="441.4" width="323.8" height="2.4" fill="#000"/>
<rect x="323" y="95" width="2.9" height="443.4" fill="#000"/>
<rect x="494.6" y="95" width="3.2" height="443.8" fill="#000"/>
<rect x="335.7" y="123.8" width="50.3" height="13" fill="#000"/><rect x="338" y="126.1" width="48" height="8.2" fill="#fff"/>
<rect x="430.8" y="123.8" width="57.5" height="13" fill="#000"/><rect x="430.8" y="126.1" width="55.3" height="8.2" fill="#fff"/>
<rect x="337.2" y="390" width="48.8" height="14.1" fill="#000"/><rect x="339.5" y="392.3" width="46.5" height="9.3" fill="#fff"/>
<rect x="429.8" y="390" width="56.9" height="14.1" fill="#000"/><rect x="429.8" y="392.3" width="54.7" height="9.3" fill="#fff"/>
<rect x="386" y="120.2" width="6.5" height="19.8" fill="#000"/>
<rect x="390" y="126.1" width="2.5" height="8.2" fill="#fff"/>
<rect x="424.5" y="120.2" width="6.3" height="19.8" fill="#000"/>
<rect x="424.5" y="126.1" width="2.3" height="8.2" fill="#fff"/>
<rect x="386" y="387.1" width="6.5" height="20.1" fill="#000"/>
<rect x="390" y="392.3" width="2.5" height="9.3" fill="#fff"/>
<rect x="424.5" y="387.1" width="5.3" height="20.1" fill="#000"/>
<rect x="424.5" y="392.3" width="1.8" height="9.3" fill="#fff"/>
<polygon points="399,41 399,36 401.7,35.6 411,35.6 413.5,31 414,29.5 418,29.5 418,417 399,417" fill="#fff"/>
<rect x="392" y="39.5" width="6.9" height="385.5" fill="#000"/>
<rect x="417.8" y="29" width="7.1" height="396" fill="#000"/>
<rect x="392" y="416.2" width="32.9" height="8.8" fill="#000"/>
<polygon points="392,39.6 397.2,39.5 397.2,35.4 399.9,35.4 399.9,32.7 401.3,32.2 409.5,32.2 410,27.7 411.3,27.2 414.4,26.8 416.7,21.8 417.2,20.9 422.2,19.5 422.2,17 424.9,17 424.9,30 417.6,29.5 414,29.5 413.5,31 411,35.6 401.7,35.6 400.8,37.7 399.5,38 398.9,41 392,41" fill="#000"/>
<rect x="404.7" y="243.2" width="8.3" height="13.6" fill="#fff" stroke="#000" stroke-width="2.2"/>
<rect x="140.7" y="65.9" width="224.3" height="2.6" fill="#000"/><polyline points="365,67.2 391,93.7 409.5,113" fill="none" stroke="#000" stroke-width="2.6" stroke-linecap="round"/>
<rect x="446.7" y="77.6" width="54.1" height="2.6" fill="#000"/><polyline points="446.7,78.9 436.6,107.8" fill="none" stroke="#000" stroke-width="2.6" stroke-linecap="round"/>
<rect x="579.7" y="84.7" width="60" height="2.6" fill="#000"/><polyline points="579.7,86 565,115" fill="none" stroke="#000" stroke-width="2.3" stroke-linecap="round"/>
<rect x="105" y="278.2" width="119.6" height="2.6" fill="#000"/><polyline points="224.6,279.5 359.3,396.6" fill="none" stroke="#000" stroke-width="2.6" stroke-linecap="round"/>
<rect x="544" y="497.1" width="149" height="2.6" fill="#000"/><polyline points="544,498.4 458,432.2" fill="none" stroke="#000" stroke-width="2.6" stroke-linecap="round"/>
<g fill="#F3E6DC"><rect x="299.8" y="120.9" width="1.1" height="1.1"/><rect x="306.9" y="118.7" width="1.1" height="1.1"/><rect x="300.9" y="150.9" width="1.1" height="1.1"/><rect x="251.2" y="156.9" width="1.1" height="1.1"/><rect x="305.9" y="195.0" width="1.1" height="1.1"/><rect x="251.3" y="257.7" width="1.1" height="1.1"/><rect x="251.8" y="258.7" width="1.1" height="1.1"/><rect x="270.0" y="255.2" width="1.1" height="1.1"/><rect x="279.5" y="269.0" width="1.1" height="1.1"/><rect x="276.2" y="274.6" width="1.1" height="1.1"/><rect x="308.4" y="232.2" width="1.1" height="1.1"/><rect x="275.0" y="318.0" width="1.1" height="1.1"/><rect x="298.9" y="320.8" width="1.1" height="1.1"/><rect x="261.7" y="410.0" width="1.1" height="1.1"/><rect x="305.9" y="404.8" width="1.1" height="1.1"/><rect x="302.5" y="434.0" width="1.1" height="1.1"/><rect x="303.3" y="440.0" width="1.1" height="1.1"/><rect x="556.5" y="116.4" width="1.1" height="1.1"/><rect x="574.0" y="175.8" width="1.1" height="1.1"/><rect x="544.8" y="247.3" width="1.1" height="1.1"/><rect x="551.9" y="274.0" width="1.1" height="1.1"/><rect x="567.7" y="279.1" width="1.1" height="1.1"/><rect x="565.3" y="330.5" width="1.1" height="1.1"/><rect x="564.5" y="386.3" width="1.1" height="1.1"/><rect x="565.5" y="386.0" width="1.1" height="1.1"/><rect x="566.5" y="385.7" width="1.1" height="1.1"/><rect x="557.2" y="385.7" width="1.1" height="1.1"/><rect x="550.8" y="398.7" width="1.1" height="1.1"/><rect x="532.5" y="291.5" width="1.1" height="1.1"/><rect x="530.9" y="320.5" width="1.1" height="1.1"/><rect x="530.2" y="330.9" width="1.1" height="1.1"/></g>
<rect x="279.5" y="140" width="1" height="1" fill="#B0504A"/>
<rect x="705" y="96" width="1" height="328" fill="#222"/>
<rect x="643" y="425" width="1" height="17" fill="#222"/>
<rect x="325" y="524" width="170" height="1" fill="#333"/>
<rect x="834.5" y="134.5" width="1" height="1" fill="#777"/>
<rect x="779" y="419" width="2" height="1" fill="#555"/>
<g font-family="'Liberation Serif', serif" font-weight="bold" font-size="14px" fill="#000" stroke="#000" stroke-width="0.25">
<text x="144.7" y="61.8" textLength="213.6" lengthAdjust="spacingAndGlyphs">Стойка шведской стенки Sv Sport</text>
<text x="456.3" y="72.6" textLength="38.4" lengthAdjust="spacingAndGlyphs">Бетон</text>
<text x="590.4" y="75.8" textLength="37.3" lengthAdjust="spacingAndGlyphs">Грунт</text>
<text x="107.2" y="270.8" textLength="113.7" lengthAdjust="spacingAndGlyphs">Закладная деталь</text>
<text x="560" y="487.9" textLength="128.1" lengthAdjust="spacingAndGlyphs">Гравийная подушка</text>
<text x="389" y="519" textLength="43.6" lengthAdjust="spacingAndGlyphs">500 мм</text>
<text x="697.3" y="280.5" textLength="40.3" lengthAdjust="spacingAndGlyphs" transform="rotate(-90 697.3 280.5)">600мм</text>
<text x="658.8" y="448" textLength="44.3" lengthAdjust="spacingAndGlyphs" transform="rotate(-90 658.8 448)">100 мм</text>
</g>
</svg>
</body>
</html>
